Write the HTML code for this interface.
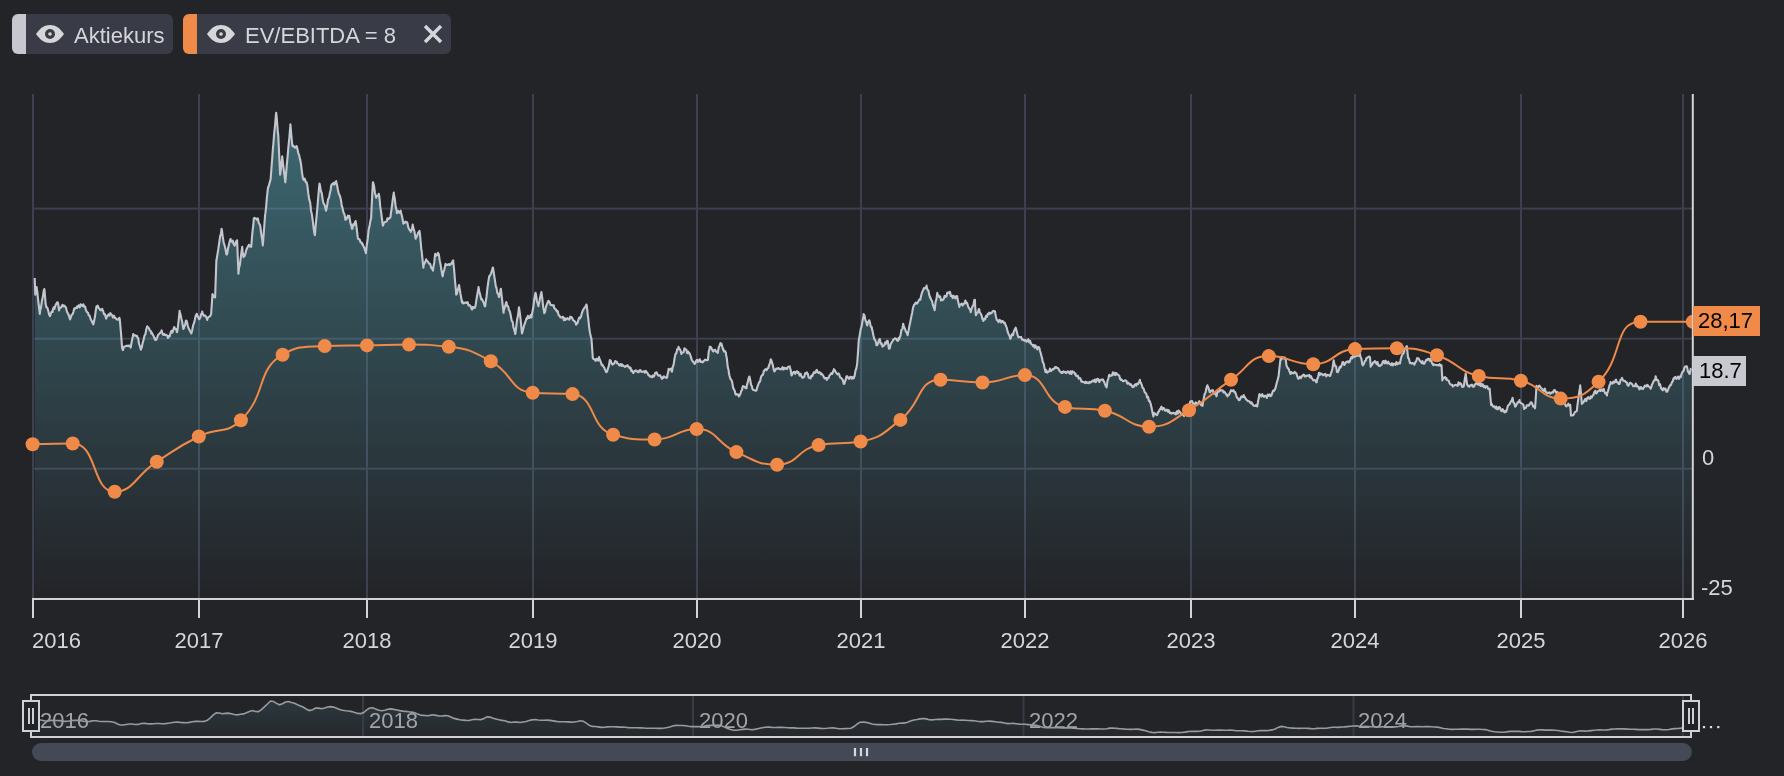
<!DOCTYPE html>
<html><head><meta charset="utf-8"><style>
html,body{margin:0;padding:0;width:1784px;height:776px;overflow:hidden;background:#232428;font-family:"Liberation Sans",sans-serif;}
</style></head><body>
<div style="position:absolute;left:0;top:0;width:1784px;height:776px;will-change:transform">
<svg width="1784" height="776" viewBox="0 0 1784 776" style="position:absolute;left:0;top:0">
<defs><linearGradient id="g1" x1="0" y1="113" x2="0" y2="598" gradientUnits="userSpaceOnUse"><stop offset="0" stop-color="rgb(89,174,190)" stop-opacity="0.5"/><stop offset="1" stop-color="rgb(89,174,190)" stop-opacity="0"/></linearGradient><linearGradient id="g2" x1="0" y1="697" x2="0" y2="736" gradientUnits="userSpaceOnUse"><stop offset="0" stop-color="#2c3a40"/><stop offset="1" stop-color="#25282c"/></linearGradient></defs>
<rect x="12" y="14" width="161" height="40" rx="6" fill="#393b47"/>
<path d="M18 14 H26 V54 H18 A6 6 0 0 1 12 48 V20 A6 6 0 0 1 18 14 Z" fill="#c6c7cf"/>
<rect x="183" y="14" width="268" height="40" rx="6" fill="#393b47"/>
<path d="M189 14 H197 V54 H189 A6 6 0 0 1 183 48 V20 A6 6 0 0 1 189 14 Z" fill="#ef8a48"/>
<path d="M36.0 34.0 C40.0 28.2 44.5 25.0 50.0 25.0 C55.5 25.0 60.0 28.2 64.0 34.0 C60.0 39.8 55.5 43.0 50.0 43.0 C44.5 43.0 40.0 39.8 36.0 34.0 Z" fill="#d6d6da"/><circle cx="50.0" cy="34.0" r="5" fill="#393b47"/><circle cx="50.0" cy="34.0" r="1.8" fill="#d6d6da"/>
<path d="M207.0 34.0 C211.0 28.2 215.5 25.0 221.0 25.0 C226.5 25.0 231.0 28.2 235.0 34.0 C231.0 39.8 226.5 43.0 221.0 43.0 C215.5 43.0 211.0 39.8 207.0 34.0 Z" fill="#d6d6da"/><circle cx="221.0" cy="34.0" r="5" fill="#393b47"/><circle cx="221.0" cy="34.0" r="1.8" fill="#d6d6da"/>
<text x="74" y="43" font-family="Liberation Sans" font-size="22" fill="#d6d6da">Aktiekurs</text>
<text x="245" y="43" font-family="Liberation Sans" font-size="22" fill="#d6d6da">EV/EBITDA = 8</text>
<path d="M425 26 L441 42 M441 26 L425 42" stroke="#d6d6da" stroke-width="3.4"/>
<rect x="32.0" y="94" width="2" height="504" fill="#3d404e"/>
<rect x="198.0" y="94" width="2" height="504" fill="#3d404e"/>
<rect x="366.0" y="94" width="2" height="504" fill="#3d404e"/>
<rect x="532.0" y="94" width="2" height="504" fill="#3d404e"/>
<rect x="696.0" y="94" width="2" height="504" fill="#3d404e"/>
<rect x="860.0" y="94" width="2" height="504" fill="#3d404e"/>
<rect x="1024.0" y="94" width="2" height="504" fill="#3d404e"/>
<rect x="1190.0" y="94" width="2" height="504" fill="#3d404e"/>
<rect x="1354.0" y="94" width="2" height="504" fill="#3d404e"/>
<rect x="1520.0" y="94" width="2" height="504" fill="#3d404e"/>
<rect x="1682.0" y="94" width="2" height="504" fill="#3d404e"/>
<rect x="33" y="207.6" width="1659" height="2" fill="#3d404e"/>
<rect x="33" y="337.7" width="1659" height="2" fill="#3d404e"/>
<rect x="33" y="467.7" width="1659" height="2" fill="#3d404e"/>
<path d="M34.7 278.1 L34.7 278.7 L35.3 294.8 L35.6 291.8 L36.5 288.1 L36.6 287.0 L37.4 292.3 L38.3 301.5 L39.2 308.5 L39.8 314.0 L40.1 310.8 L41.0 307.4 L41.9 300.8 L42.8 297.1 L43.7 290.9 L44.3 289.0 L44.6 291.0 L45.5 302.4 L45.6 303.8 L46.4 307.3 L47.3 307.6 L48.2 310.6 L49.1 314.6 L49.5 315.4 L50.0 316.1 L50.9 313.4 L51.8 311.4 L52.7 311.9 L52.7 310.3 L53.6 307.4 L54.5 308.8 L55.4 305.5 L56.3 303.7 L57.2 302.3 L57.9 302.5 L58.1 303.1 L59.0 310.4 L59.1 310.0 L59.9 307.7 L60.8 307.7 L61.7 306.5 L62.4 305.0 L62.6 304.8 L63.5 306.3 L64.4 305.6 L65.3 306.6 L66.2 308.0 L66.2 309.0 L67.1 312.0 L68.0 313.5 L68.9 315.5 L69.8 318.8 L70.1 319.3 L70.7 317.6 L71.6 314.9 L72.5 314.3 L73.4 311.8 L74.0 309.6 L74.3 308.4 L75.2 308.7 L76.1 307.6 L77.0 307.9 L77.2 306.4 L77.9 307.0 L78.8 305.3 L79.7 307.4 L80.6 304.3 L81.5 305.1 L82.4 306.0 L83.0 305.0 L83.3 304.3 L84.2 306.8 L85.1 306.6 L86.0 310.2 L86.9 311.9 L87.8 312.6 L88.1 312.8 L88.7 315.4 L89.6 315.5 L90.5 318.8 L91.4 320.5 L92.3 322.4 L93.2 324.0 L93.3 324.4 L94.1 321.1 L95.0 316.3 L95.9 309.7 L96.5 306.4 L96.8 307.1 L97.7 305.6 L98.6 308.2 L99.5 308.6 L100.4 310.2 L101.3 310.1 L102.2 308.8 L102.3 309.6 L103.1 311.1 L104.0 314.1 L104.9 314.0 L105.8 317.5 L106.2 318.6 L106.7 316.9 L107.6 315.6 L108.5 314.4 L109.4 315.7 L110.0 314.1 L110.3 313.1 L111.2 314.1 L112.1 315.3 L113.0 317.6 L113.9 315.6 L114.8 317.5 L115.2 318.0 L115.7 318.2 L116.6 319.5 L117.5 319.4 L118.4 319.7 L119.3 317.8 L119.7 318.6 L120.2 324.1 L121.1 334.4 L122.0 346.7 L122.3 348.9 L122.9 350.1 L123.8 346.9 L124.7 346.5 L125.6 346.2 L126.5 345.7 L127.4 346.0 L128.1 345.7 L128.3 346.1 L129.2 345.7 L130.1 345.5 L130.7 347.6 L131.0 345.7 L131.9 340.7 L132.8 336.5 L133.2 334.1 L133.7 335.9 L134.6 335.4 L135.5 335.3 L136.4 336.1 L137.1 336.0 L137.3 337.3 L138.2 338.1 L139.1 344.0 L140.0 346.5 L140.9 349.8 L141.0 348.9 L141.8 347.2 L142.7 342.7 L143.6 339.7 L144.5 335.6 L145.4 334.3 L146.3 329.3 L147.2 326.2 L147.4 327.0 L148.1 327.2 L149.0 328.5 L149.9 330.6 L150.8 331.1 L151.3 333.5 L151.7 332.5 L152.6 334.4 L153.5 335.8 L154.4 338.1 L155.2 339.9 L155.3 338.2 L156.2 339.9 L157.1 337.8 L158.0 335.0 L158.9 334.2 L159.8 333.3 L160.7 332.2 L161.6 331.5 L161.6 330.2 L162.5 333.6 L163.4 335.0 L164.3 334.1 L165.2 335.1 L166.1 334.7 L167.0 335.6 L167.9 337.4 L168.0 338.0 L168.8 335.9 L169.7 336.4 L170.6 332.7 L171.5 330.8 L172.4 332.6 L173.3 329.7 L174.2 327.0 L174.5 327.7 L175.1 328.9 L176.0 328.7 L176.9 331.9 L177.1 332.2 L177.8 327.9 L178.7 319.8 L179.6 310.9 L179.6 311.6 L180.5 314.3 L181.4 318.8 L182.3 322.3 L183.2 328.5 L183.5 329.0 L184.1 327.2 L185.0 325.1 L185.9 320.7 L186.1 320.6 L186.8 321.3 L187.7 325.5 L188.6 328.2 L189.5 329.9 L190.4 331.9 L191.2 332.8 L191.3 333.5 L192.2 330.2 L193.1 325.3 L194.0 323.2 L194.9 319.5 L195.8 315.3 L196.4 314.8 L196.7 313.7 L197.6 316.1 L198.5 317.6 L199.0 319.3 L199.4 319.0 L200.3 317.7 L201.2 313.8 L202.1 313.2 L202.2 311.5 L203.0 314.5 L203.9 315.8 L204.8 315.3 L205.7 316.3 L206.6 317.8 L207.3 319.9 L207.5 318.5 L208.4 316.9 L209.3 316.7 L210.2 316.0 L211.1 314.1 L211.2 312.8 L212.0 301.2 L212.5 294.1 L212.9 295.1 L213.8 296.8 L214.7 295.5 L215.1 297.4 L215.6 283.4 L216.4 259.6 L216.5 260.4 L217.4 254.6 L218.3 249.2 L219.0 244.2 L219.2 242.9 L220.1 236.5 L221.0 233.3 L221.6 228.7 L221.9 229.9 L222.8 236.9 L223.7 242.8 L224.2 244.2 L224.6 245.4 L225.5 249.0 L226.4 254.4 L226.8 254.5 L227.3 253.2 L228.2 247.7 L229.1 243.9 L230.0 240.3 L230.6 239.0 L230.9 240.8 L231.8 241.6 L232.7 240.6 L233.6 244.1 L234.5 244.2 L234.5 245.8 L235.4 243.4 L236.3 241.0 L237.1 240.3 L237.2 243.0 L238.1 264.8 L238.4 273.8 L239.0 267.9 L239.9 264.7 L240.8 257.3 L241.7 250.4 L242.2 246.8 L242.6 251.4 L243.5 257.1 L243.5 256.9 L244.4 256.4 L245.3 254.2 L246.2 250.1 L247.1 248.2 L248.0 246.4 L248.7 245.5 L248.9 244.7 L249.8 246.4 L250.7 245.7 L251.2 246.8 L251.6 242.2 L252.5 231.3 L253.4 224.2 L253.8 218.4 L254.3 217.9 L255.2 218.3 L256.1 218.7 L257.0 219.8 L257.7 218.4 L257.9 218.7 L258.8 223.1 L259.7 224.3 L260.3 226.1 L260.6 228.5 L261.5 235.5 L262.4 240.8 L262.8 245.5 L263.3 239.1 L264.2 227.0 L265.1 215.2 L265.4 213.2 L266.0 208.3 L266.9 197.3 L267.8 189.4 L268.0 187.5 L268.7 186.2 L269.6 182.9 L270.5 179.4 L270.6 179.7 L271.4 169.0 L272.3 157.1 L273.1 146.2 L273.2 146.1 L274.1 134.1 L275.0 125.9 L275.9 115.1 L276.2 112.7 L276.8 118.6 L277.7 130.2 L278.3 135.9 L278.6 142.4 L279.5 161.9 L280.1 174.6 L280.4 172.9 L281.3 165.7 L282.2 156.5 L282.2 156.3 L283.1 164.4 L284.0 171.5 L284.9 179.0 L285.3 182.3 L285.8 177.3 L286.7 166.2 L287.6 156.3 L288.5 145.8 L289.4 137.2 L290.3 126.1 L290.4 124.3 L291.2 133.9 L292.1 143.5 L292.5 146.2 L293.0 145.4 L293.9 146.4 L294.8 147.7 L295.7 147.4 L296.3 146.2 L296.6 146.1 L297.5 149.3 L298.4 153.6 L299.3 155.7 L300.2 160.4 L300.2 159.5 L301.1 164.8 L302.0 172.6 L302.8 177.2 L302.9 178.3 L303.8 179.9 L304.7 178.6 L305.6 181.7 L306.5 182.7 L306.6 182.3 L307.4 185.8 L308.3 193.7 L309.2 199.4 L310.1 202.2 L310.5 205.5 L311.0 210.4 L311.9 214.6 L312.8 221.0 L313.7 228.8 L314.6 234.3 L314.9 235.2 L315.5 227.3 L316.4 218.1 L317.3 208.3 L318.2 197.6 L319.1 187.1 L319.5 183.6 L320.0 185.5 L320.9 191.3 L321.8 193.3 L322.7 199.6 L323.4 202.9 L323.6 203.3 L324.5 204.6 L325.4 208.3 L326.0 210.7 L326.3 209.7 L327.2 205.0 L328.1 199.1 L329.0 197.9 L329.9 192.9 L330.8 189.2 L331.1 186.2 L331.7 184.4 L332.6 184.3 L333.5 182.8 L334.4 184.7 L335.3 182.3 L336.2 181.1 L336.3 182.3 L337.1 185.3 L338.0 190.6 L338.9 193.9 L339.8 195.6 L340.7 198.9 L341.4 202.9 L341.6 205.2 L342.5 207.9 L343.4 212.2 L344.3 214.0 L345.2 217.8 L345.3 219.7 L346.1 219.5 L347.0 217.7 L347.9 215.6 L348.8 217.7 L349.2 215.8 L349.7 218.7 L350.6 223.8 L351.5 225.8 L351.8 228.7 L352.4 228.7 L353.3 224.2 L354.2 225.1 L355.1 221.9 L355.6 221.0 L356.0 223.2 L356.9 230.2 L357.8 237.7 L358.2 239.0 L358.7 238.9 L359.6 239.6 L360.5 242.2 L361.4 242.4 L362.1 244.2 L362.3 243.3 L363.2 245.7 L364.1 247.4 L365.0 250.1 L365.9 252.6 L365.9 253.2 L366.8 245.0 L367.7 238.9 L368.5 231.3 L368.6 230.1 L369.5 226.3 L370.4 220.8 L371.1 218.4 L371.3 213.9 L372.2 194.7 L372.9 182.3 L373.1 182.4 L374.0 185.8 L374.9 192.5 L375.8 196.1 L376.2 197.8 L376.7 196.0 L377.6 195.6 L378.5 195.8 L378.8 193.9 L379.4 197.3 L380.3 206.9 L381.2 212.7 L382.1 220.0 L382.7 224.8 L383.0 225.6 L383.9 222.9 L384.8 222.2 L385.7 221.7 L386.6 221.5 L387.5 218.2 L387.8 218.4 L388.4 219.2 L389.3 218.4 L390.2 217.7 L390.4 217.1 L391.1 212.0 L392.0 205.7 L392.9 198.5 L393.8 192.6 L393.8 193.9 L394.7 198.0 L395.6 205.9 L396.5 209.9 L396.9 213.2 L397.4 211.7 L398.3 210.9 L399.2 212.8 L400.1 212.4 L400.7 210.7 L401.0 212.8 L401.9 215.9 L402.8 220.2 L403.3 223.6 L403.7 222.7 L404.6 223.0 L405.5 221.6 L406.4 222.2 L406.9 222.2 L407.3 222.4 L408.2 227.0 L409.1 229.3 L410.0 230.1 L410.8 231.9 L410.9 230.7 L411.8 229.9 L412.7 224.5 L412.7 225.1 L413.6 228.8 L414.5 231.8 L415.4 237.4 L415.6 238.7 L416.3 237.2 L417.2 235.5 L418.1 232.7 L419.0 231.9 L419.5 230.9 L419.9 233.3 L420.8 243.4 L421.4 250.3 L421.7 251.5 L422.6 260.4 L423.4 267.7 L423.5 265.9 L424.4 263.4 L425.3 261.9 L426.2 259.3 L426.3 259.9 L427.1 261.0 L428.0 261.7 L428.9 263.4 L429.8 264.0 L430.1 263.8 L430.7 265.9 L431.6 268.6 L432.5 269.1 L433.0 270.6 L433.4 266.9 L434.3 262.2 L435.0 255.1 L435.2 253.9 L436.1 255.6 L437.0 255.1 L437.9 252.8 L438.8 255.2 L438.8 254.1 L439.7 260.6 L440.6 264.8 L441.5 270.3 L442.4 275.7 L442.7 276.4 L443.3 272.6 L444.2 270.0 L445.1 266.0 L445.6 263.8 L446.0 264.9 L446.9 264.8 L447.8 264.9 L448.7 264.1 L449.6 265.1 L450.4 263.8 L450.5 264.4 L451.4 263.8 L452.3 261.6 L453.2 260.4 L453.3 261.9 L454.1 269.7 L455.0 280.7 L455.9 290.0 L456.2 294.7 L456.8 293.9 L457.7 289.9 L458.6 287.2 L459.1 285.1 L459.5 287.9 L460.4 293.5 L461.3 298.3 L462.0 302.5 L462.2 300.8 L463.1 303.5 L464.0 303.3 L464.9 302.5 L465.8 302.6 L466.7 303.0 L466.9 302.5 L467.6 302.0 L468.5 305.5 L469.4 305.1 L470.3 305.8 L471.2 307.7 L471.7 309.2 L472.1 309.6 L473.0 306.9 L473.9 307.9 L474.8 307.8 L475.6 305.4 L475.7 304.7 L476.6 298.7 L477.5 293.3 L478.4 288.3 L478.5 287.0 L479.3 291.4 L480.2 294.8 L481.1 298.8 L481.4 299.6 L482.0 299.2 L482.9 301.0 L483.8 303.0 L484.7 306.2 L485.2 306.3 L485.6 302.7 L486.5 296.9 L487.4 288.3 L488.3 281.8 L489.1 277.3 L489.2 276.3 L490.1 275.4 L491.0 273.3 L491.9 271.0 L492.8 267.5 L493.0 267.7 L493.7 272.4 L494.6 278.2 L495.5 284.2 L495.9 287.0 L496.4 287.4 L497.3 293.0 L498.2 293.7 L498.8 296.7 L499.1 297.1 L500.0 293.3 L500.7 288.9 L500.9 288.8 L501.8 297.2 L502.7 305.4 L503.6 312.8 L503.6 311.2 L504.5 308.3 L505.4 305.0 L506.3 302.1 L506.5 302.5 L507.2 306.1 L508.1 306.3 L509.0 310.2 L509.9 311.4 L510.4 314.1 L510.8 315.8 L511.7 320.9 L512.6 321.7 L513.5 327.7 L514.4 330.2 L515.2 333.4 L515.3 334.0 L516.2 327.2 L517.1 319.4 L518.0 315.5 L518.9 307.9 L519.0 307.3 L519.8 312.6 L520.7 320.4 L521.6 329.9 L522.0 333.4 L522.5 331.6 L523.4 328.2 L524.3 324.8 L525.2 322.5 L526.1 319.5 L526.8 317.9 L527.0 319.0 L527.9 315.8 L528.8 318.0 L529.7 317.9 L530.6 315.1 L531.5 317.5 L531.6 316.0 L532.4 312.0 L533.3 307.3 L534.2 299.8 L535.1 294.7 L535.5 292.8 L536.0 294.8 L536.9 301.0 L537.8 303.8 L538.4 306.3 L538.7 304.4 L539.6 300.5 L540.5 295.8 L541.3 292.8 L541.4 292.0 L542.3 298.4 L543.2 307.2 L544.1 311.7 L544.2 313.1 L545.0 312.1 L545.9 307.1 L546.8 304.4 L547.7 302.5 L548.0 301.5 L548.6 300.8 L549.5 302.1 L550.4 304.7 L551.3 305.0 L552.2 305.4 L553.1 305.4 L553.8 305.4 L554.0 307.2 L554.9 308.9 L555.8 309.2 L556.7 311.4 L557.6 310.8 L558.5 314.8 L559.4 315.5 L559.6 316.0 L560.3 317.3 L561.2 317.6 L562.1 317.0 L563.0 316.8 L563.9 320.3 L564.8 318.2 L565.4 319.9 L565.7 319.7 L566.6 318.8 L567.5 318.2 L568.4 319.2 L569.3 319.6 L570.2 316.7 L571.1 317.6 L571.2 317.0 L572.0 317.6 L572.9 319.9 L573.8 320.7 L574.7 321.4 L575.6 322.8 L576.1 324.7 L576.5 322.9 L577.4 323.5 L578.3 320.3 L579.2 317.5 L580.1 318.1 L581.0 316.6 L581.9 312.9 L581.9 313.1 L582.8 310.4 L583.7 309.2 L584.6 307.4 L585.5 306.8 L586.4 304.5 L586.7 305.4 L587.3 310.1 L587.8 315.6 L588.2 318.2 L589.1 326.8 L589.3 328.3 L590.0 332.9 L590.9 336.8 L591.4 338.3 L591.8 343.7 L592.7 356.4 L592.8 358.1 L593.6 359.0 L594.5 359.4 L595.4 360.2 L595.6 361.0 L596.3 358.9 L597.2 359.0 L598.1 360.6 L599.0 357.0 L599.2 358.1 L599.9 359.7 L600.8 362.1 L601.7 364.9 L602.6 364.7 L602.7 365.9 L603.5 366.5 L604.4 368.1 L605.3 370.2 L606.2 371.9 L606.3 372.3 L607.1 371.4 L608.0 368.3 L608.9 365.7 L609.8 360.1 L609.8 361.7 L610.7 360.6 L611.6 363.5 L612.5 364.7 L613.3 363.8 L613.4 363.7 L614.3 363.5 L615.2 361.0 L616.1 361.8 L616.9 361.7 L617.0 363.2 L617.9 363.6 L618.8 364.5 L619.7 365.7 L620.6 364.0 L621.5 364.2 L621.9 365.9 L622.4 364.7 L623.3 365.8 L624.2 366.2 L625.1 367.0 L626.0 366.1 L626.9 365.8 L627.5 365.2 L627.8 366.5 L628.7 366.6 L629.6 368.1 L630.5 367.5 L631.4 371.2 L632.3 370.4 L632.5 371.6 L633.2 373.0 L634.1 372.1 L635.0 370.9 L635.9 370.3 L636.8 370.8 L637.7 372.1 L638.6 372.3 L639.5 370.3 L640.4 370.1 L641.3 371.7 L641.7 371.6 L642.2 372.0 L643.1 371.6 L644.0 371.2 L644.9 372.7 L645.8 370.9 L646.7 372.2 L647.4 373.0 L647.6 373.0 L648.5 375.5 L649.4 375.2 L650.3 376.8 L651.2 376.3 L652.1 376.2 L652.3 377.3 L653.0 375.4 L653.9 376.5 L654.8 374.3 L655.2 373.0 L655.7 372.7 L656.6 372.3 L657.5 374.5 L658.4 375.6 L659.3 375.4 L660.2 375.4 L661.1 377.4 L662.0 378.8 L662.9 377.0 L663.0 378.0 L663.8 376.3 L664.7 377.2 L665.6 377.3 L666.5 378.0 L667.2 377.3 L667.4 375.0 L668.3 371.6 L668.6 368.7 L669.2 369.8 L670.1 369.3 L671.0 368.7 L671.9 371.7 L672.2 370.2 L672.8 366.8 L673.7 364.3 L674.6 358.1 L675.5 353.9 L675.7 353.9 L676.4 353.0 L677.3 349.1 L678.2 349.1 L678.5 346.8 L679.1 348.3 L680.0 349.4 L680.9 351.7 L681.4 353.9 L681.8 353.0 L682.7 352.6 L683.6 352.3 L684.5 348.3 L684.9 348.9 L685.4 349.1 L686.3 349.6 L687.2 353.3 L688.1 351.5 L688.5 353.2 L689.0 352.5 L689.9 354.0 L690.8 356.6 L691.7 359.8 L692.6 361.2 L693.5 362.2 L694.1 362.4 L694.4 363.9 L695.3 363.3 L696.2 360.7 L697.1 359.8 L698.0 361.9 L698.4 360.2 L698.9 361.3 L699.8 359.3 L700.7 362.0 L701.6 361.5 L702.5 361.9 L702.6 362.4 L703.4 361.5 L704.3 360.5 L705.2 359.6 L706.1 360.1 L707.0 360.0 L707.6 360.2 L707.9 359.8 L708.8 351.3 L709.7 348.4 L709.7 346.8 L710.6 346.7 L711.5 348.1 L712.4 350.5 L713.3 351.4 L713.3 350.3 L714.2 350.5 L715.1 349.7 L716.0 351.6 L716.9 351.7 L717.5 352.4 L717.8 352.9 L718.7 347.5 L719.6 345.3 L720.4 343.2 L720.5 344.8 L721.4 343.6 L722.3 346.8 L723.2 350.0 L723.2 348.9 L724.1 351.6 L725.0 351.0 L725.9 352.8 L726.0 354.6 L726.8 358.2 L727.7 366.8 L728.6 370.3 L728.9 373.0 L729.5 375.7 L730.4 378.9 L731.3 379.7 L732.2 382.2 L732.4 383.6 L733.1 387.5 L734.0 389.5 L734.9 391.3 L735.3 393.5 L735.8 394.7 L736.7 394.0 L737.6 394.6 L738.5 394.5 L738.8 396.4 L739.4 395.8 L740.3 394.2 L741.2 391.0 L742.1 389.9 L742.3 387.9 L743.0 386.1 L743.9 386.5 L744.8 387.0 L745.7 388.3 L746.6 388.0 L746.6 386.5 L747.5 382.9 L748.4 379.2 L749.3 376.6 L749.4 376.5 L750.2 379.8 L751.1 385.0 L752.0 386.3 L752.3 388.6 L752.9 389.8 L753.8 389.9 L754.7 390.5 L755.6 390.6 L756.5 390.4 L756.5 390.0 L757.4 386.9 L758.3 384.4 L759.2 382.0 L759.3 382.2 L760.1 381.3 L761.0 376.9 L761.9 375.2 L762.8 375.0 L763.6 372.3 L763.7 371.4 L764.6 370.0 L765.5 369.2 L766.4 370.2 L767.1 369.5 L767.3 368.4 L768.2 368.1 L769.1 365.2 L770.0 363.1 L770.7 359.5 L770.9 359.4 L771.8 361.7 L772.7 364.6 L773.6 368.9 L774.2 370.9 L774.5 371.4 L775.4 369.9 L776.3 368.6 L777.2 368.6 L778.1 368.7 L778.5 368.0 L779.0 368.6 L779.9 369.0 L780.8 369.4 L781.7 368.8 L782.6 367.1 L783.5 369.6 L784.4 367.8 L785.3 368.8 L785.7 368.6 L786.2 368.0 L787.1 368.9 L788.0 366.8 L788.9 366.7 L789.8 366.4 L789.9 367.2 L790.7 370.1 L791.3 374.3 L791.6 375.4 L792.5 373.7 L793.4 372.1 L794.2 372.1 L794.3 371.7 L795.2 373.8 L796.1 372.1 L797.0 371.2 L797.9 373.1 L798.4 372.1 L798.8 373.2 L799.7 375.6 L800.6 373.8 L801.5 376.3 L802.0 377.1 L802.4 377.9 L803.3 377.3 L804.2 376.9 L805.1 373.3 L806.0 373.5 L806.9 372.3 L806.9 373.6 L807.8 373.8 L808.7 377.8 L809.6 377.8 L809.8 377.8 L810.5 378.5 L811.4 375.6 L812.3 376.2 L813.2 373.8 L814.1 372.1 L815.0 372.9 L815.9 372.4 L816.1 370.7 L816.8 369.9 L817.7 372.2 L818.6 372.9 L819.5 372.2 L820.4 373.3 L821.1 374.3 L821.3 373.3 L822.2 374.4 L823.1 375.4 L824.0 377.5 L824.9 378.5 L825.8 377.9 L826.7 378.1 L826.8 379.9 L827.6 378.3 L828.5 378.3 L829.4 375.5 L830.3 374.7 L831.2 373.2 L832.1 374.0 L833.0 372.0 L833.9 369.2 L833.9 370.7 L834.8 370.1 L835.7 372.0 L836.6 373.3 L837.5 374.4 L838.4 373.3 L839.3 374.4 L839.5 375.7 L840.2 377.5 L841.1 377.9 L842.0 378.9 L842.9 380.3 L843.8 383.9 L844.5 383.5 L844.7 382.2 L845.6 380.0 L846.5 376.3 L846.6 376.4 L847.4 376.4 L848.3 378.1 L849.2 378.9 L850.1 377.0 L851.0 376.7 L851.9 378.7 L852.8 377.2 L853.7 376.8 L853.7 378.5 L854.6 376.0 L855.5 370.6 L856.4 368.1 L857.2 363.6 L857.3 361.8 L858.2 349.8 L858.7 341.0 L859.1 338.8 L860.0 333.3 L860.9 328.2 L861.5 326.8 L861.8 325.1 L862.7 320.0 L863.6 315.4 L863.6 314.0 L864.5 315.5 L865.4 320.1 L866.3 322.1 L867.2 325.4 L867.2 325.4 L868.1 322.1 L869.0 320.4 L869.3 320.4 L869.9 322.4 L870.8 326.8 L871.7 327.0 L872.1 329.6 L872.6 331.4 L873.5 335.7 L874.4 339.5 L875.3 340.2 L876.2 343.2 L876.4 345.2 L877.1 345.3 L878.0 343.6 L878.9 340.1 L879.2 339.5 L879.8 339.0 L880.7 343.6 L881.6 343.4 L882.5 346.7 L882.8 345.9 L883.4 345.7 L884.3 345.5 L885.2 342.3 L886.1 343.6 L887.0 340.8 L887.7 341.0 L887.9 341.8 L888.8 348.2 L889.1 348.7 L889.7 348.5 L890.6 344.4 L891.5 342.6 L892.4 341.3 L893.3 339.8 L893.4 339.5 L894.2 339.1 L895.1 338.2 L896.0 338.6 L896.9 340.3 L897.8 340.9 L898.7 337.9 L899.1 339.5 L899.6 337.9 L900.5 335.4 L901.4 329.8 L902.3 329.3 L903.2 323.7 L903.3 324.6 L904.1 326.9 L905.0 329.0 L905.9 331.5 L906.8 332.7 L907.6 335.3 L907.7 334.5 L908.6 330.5 L909.5 325.4 L910.4 321.6 L910.4 321.1 L911.3 316.8 L912.2 312.7 L913.1 307.3 L914.0 305.2 L914.0 304.8 L914.9 304.1 L915.8 302.5 L916.7 303.6 L917.6 302.9 L918.5 301.1 L919.4 299.4 L920.3 299.7 L920.3 299.8 L921.2 295.4 L922.1 292.4 L923.0 290.3 L923.2 289.9 L923.9 288.0 L924.8 288.4 L925.7 287.9 L926.6 285.6 L926.7 287.1 L927.5 289.8 L928.4 290.5 L929.3 295.2 L930.2 297.9 L930.2 297.0 L931.1 299.7 L932.0 300.8 L932.9 305.1 L933.8 307.3 L934.5 309.8 L934.7 310.1 L935.6 301.9 L936.5 298.9 L937.3 292.8 L937.4 294.6 L938.3 295.2 L939.2 297.0 L940.1 296.3 L941.0 300.5 L941.6 299.8 L941.9 299.5 L942.8 300.2 L943.7 299.1 L944.6 295.7 L945.5 296.9 L946.4 296.5 L947.3 292.6 L948.2 292.7 L949.1 293.2 L949.4 292.0 L950.0 291.9 L950.9 296.0 L951.8 295.5 L952.2 297.0 L952.7 298.1 L953.6 295.8 L954.5 297.0 L955.4 298.4 L956.3 296.0 L957.2 296.2 L957.2 297.0 L958.1 301.3 L959.0 304.9 L959.3 306.9 L959.9 304.8 L960.8 304.5 L961.7 303.6 L962.6 305.5 L963.5 303.8 L964.4 303.8 L965.3 300.5 L965.7 301.3 L966.2 303.3 L967.1 302.8 L968.0 306.1 L968.9 308.2 L969.8 309.1 L970.6 311.2 L970.7 312.2 L971.6 308.7 L972.5 306.4 L973.4 305.1 L974.3 300.0 L974.9 299.8 L975.2 306.6 L975.8 315.1 L976.1 315.0 L977.0 312.7 L977.9 312.5 L978.8 309.1 L979.2 309.2 L979.7 312.3 L980.6 313.4 L981.5 315.2 L982.4 319.1 L983.3 320.5 L983.4 321.0 L984.2 318.7 L985.1 319.4 L986.0 315.7 L986.9 317.0 L987.8 313.8 L988.7 313.8 L989.2 312.6 L989.6 314.2 L990.5 312.9 L991.4 313.2 L992.3 312.0 L993.2 310.9 L994.1 311.0 L995.0 311.4 L995.1 312.6 L995.9 316.5 L996.8 319.9 L996.8 320.1 L997.7 320.5 L998.6 322.2 L999.5 319.9 L1000.4 320.6 L1001.0 321.8 L1001.3 322.5 L1002.2 320.9 L1003.1 321.4 L1004.0 323.1 L1004.9 322.8 L1005.2 324.3 L1005.8 325.5 L1006.7 327.7 L1007.6 331.4 L1008.5 334.0 L1009.4 335.3 L1010.2 338.6 L1010.3 338.8 L1011.2 336.8 L1012.1 334.0 L1013.0 335.2 L1013.9 331.3 L1014.8 329.4 L1015.7 327.6 L1016.0 328.5 L1016.6 330.9 L1017.5 334.6 L1018.4 337.2 L1018.6 336.9 L1019.3 337.0 L1020.2 337.2 L1021.1 336.9 L1022.0 339.6 L1022.9 339.9 L1023.6 340.2 L1023.8 339.7 L1024.7 340.7 L1025.6 340.0 L1026.5 341.7 L1027.4 341.0 L1028.3 339.3 L1028.6 340.2 L1029.2 342.4 L1030.1 340.8 L1031.0 343.7 L1031.9 344.5 L1032.8 345.2 L1032.8 346.1 L1033.7 344.9 L1034.6 347.7 L1035.5 345.4 L1036.4 347.6 L1037.3 349.3 L1038.2 346.9 L1039.1 347.4 L1039.5 348.6 L1040.0 350.8 L1040.9 353.8 L1041.8 357.5 L1042.0 357.8 L1042.7 361.8 L1043.6 363.4 L1044.5 367.7 L1045.4 371.4 L1045.4 372.1 L1046.3 370.2 L1047.2 372.7 L1048.1 372.0 L1049.0 371.4 L1049.6 370.4 L1049.9 368.6 L1050.8 371.1 L1051.7 370.3 L1052.6 369.0 L1053.5 369.5 L1054.4 368.2 L1055.3 367.0 L1055.4 367.9 L1056.2 367.1 L1057.1 368.1 L1058.0 368.0 L1058.9 369.5 L1059.8 371.5 L1060.7 371.9 L1061.6 373.0 L1062.1 372.1 L1062.5 372.8 L1063.4 371.3 L1064.3 372.3 L1065.2 371.9 L1066.1 373.1 L1067.0 372.2 L1067.9 371.3 L1068.8 372.6 L1069.7 373.7 L1069.7 372.1 L1070.6 371.4 L1071.5 373.9 L1072.4 371.2 L1073.3 372.3 L1074.2 372.4 L1075.1 374.4 L1075.5 373.7 L1076.0 375.8 L1076.9 376.1 L1077.8 375.7 L1078.7 378.6 L1079.6 377.8 L1080.5 378.5 L1081.4 381.8 L1082.2 381.3 L1082.3 381.8 L1083.2 382.1 L1084.1 382.1 L1085.0 383.2 L1085.9 381.6 L1086.8 382.9 L1087.7 382.6 L1088.6 383.2 L1089.5 381.9 L1089.8 382.1 L1090.4 382.7 L1091.3 382.0 L1092.2 380.9 L1093.1 380.4 L1094.0 381.6 L1094.9 379.5 L1095.8 382.1 L1096.7 379.3 L1097.3 380.4 L1097.6 378.8 L1098.5 379.2 L1099.4 382.1 L1100.3 380.3 L1101.2 379.7 L1102.1 379.4 L1103.0 379.6 L1103.9 381.9 L1104.0 381.3 L1104.8 383.6 L1105.7 385.9 L1106.5 387.1 L1106.6 387.4 L1107.5 380.9 L1108.4 378.5 L1109.0 375.4 L1109.3 374.8 L1110.2 376.0 L1111.1 375.6 L1112.0 375.5 L1112.9 372.3 L1113.8 374.6 L1114.7 374.4 L1114.9 372.9 L1115.6 375.1 L1116.5 373.2 L1117.4 374.4 L1118.3 375.0 L1119.2 375.6 L1120.1 379.3 L1120.8 378.8 L1121.0 380.0 L1121.9 379.9 L1122.8 381.2 L1123.7 381.1 L1124.6 380.5 L1125.5 380.4 L1126.4 380.9 L1127.3 383.7 L1127.5 383.0 L1128.2 382.6 L1129.1 383.7 L1130.0 384.8 L1130.9 384.2 L1131.8 385.7 L1132.5 387.1 L1132.7 386.2 L1133.6 387.0 L1134.5 385.1 L1135.4 384.2 L1136.3 385.7 L1137.2 383.5 L1138.1 384.0 L1139.0 382.5 L1139.9 379.8 L1140.0 381.3 L1140.8 382.8 L1141.7 384.8 L1142.6 387.9 L1143.5 388.4 L1144.2 390.5 L1144.4 391.6 L1145.3 392.8 L1146.2 393.5 L1147.1 397.5 L1148.0 396.7 L1148.9 401.0 L1149.2 400.5 L1149.8 401.4 L1150.7 403.9 L1151.6 407.7 L1152.5 412.6 L1153.4 416.4 L1153.4 414.8 L1154.3 412.9 L1155.2 414.4 L1156.1 414.3 L1157.0 415.1 L1157.6 414.0 L1157.9 412.3 L1158.8 411.6 L1159.7 409.3 L1160.6 409.1 L1161.0 407.2 L1161.5 406.7 L1162.4 409.7 L1163.3 408.0 L1164.2 408.4 L1165.1 410.7 L1166.0 410.6 L1166.0 410.6 L1166.9 409.6 L1167.8 411.7 L1168.7 410.2 L1169.6 412.9 L1170.0 412.1 L1170.5 412.9 L1171.4 413.6 L1172.3 413.3 L1173.2 412.7 L1174.1 413.2 L1174.3 413.6 L1175.0 413.0 L1175.9 414.4 L1176.8 411.3 L1177.7 413.7 L1178.5 412.1 L1178.6 410.5 L1179.5 411.6 L1180.4 412.3 L1181.3 414.9 L1182.2 414.0 L1183.1 414.0 L1184.0 416.2 L1184.2 415.0 L1184.9 412.6 L1185.8 411.5 L1186.7 409.8 L1187.6 408.7 L1188.5 406.8 L1189.4 404.5 L1190.3 401.6 L1190.6 401.5 L1191.2 401.2 L1192.1 401.0 L1193.0 403.7 L1193.9 403.5 L1194.8 404.1 L1195.5 403.6 L1195.7 402.4 L1196.6 403.0 L1197.5 403.9 L1198.4 402.9 L1199.3 401.1 L1199.8 402.2 L1200.2 402.6 L1201.1 405.2 L1202.0 404.1 L1202.6 405.8 L1202.9 403.0 L1203.8 398.2 L1204.7 393.7 L1204.7 394.4 L1205.6 392.4 L1206.5 387.7 L1207.4 385.3 L1207.6 385.9 L1208.3 387.2 L1209.2 390.2 L1209.7 392.3 L1210.1 392.2 L1211.0 390.5 L1211.9 390.6 L1212.5 390.9 L1212.8 390.1 L1213.7 393.7 L1214.6 393.7 L1215.5 392.5 L1216.4 396.3 L1216.8 395.1 L1217.3 392.6 L1218.2 391.5 L1219.1 391.5 L1219.6 388.7 L1220.0 390.0 L1220.9 390.6 L1221.8 390.3 L1222.7 390.3 L1223.6 392.5 L1223.9 392.3 L1224.5 391.7 L1225.4 393.1 L1226.3 394.8 L1227.2 394.7 L1227.4 396.5 L1228.1 394.9 L1229.0 394.7 L1229.9 392.8 L1230.8 390.6 L1231.0 390.2 L1231.7 391.0 L1232.6 390.9 L1233.5 390.2 L1234.4 392.3 L1235.2 392.3 L1235.3 392.2 L1236.2 395.3 L1237.1 397.9 L1238.0 398.3 L1238.7 400.1 L1238.9 400.2 L1239.8 399.8 L1240.7 397.8 L1241.6 396.3 L1242.5 397.1 L1243.4 396.7 L1243.7 395.1 L1244.3 396.8 L1245.2 397.8 L1246.1 399.5 L1247.0 400.1 L1247.9 401.1 L1248.0 400.8 L1248.8 401.3 L1249.7 401.5 L1250.6 403.3 L1251.5 403.6 L1251.5 402.2 L1252.4 403.8 L1253.3 405.5 L1254.2 405.7 L1255.1 405.9 L1256.0 405.0 L1256.9 406.1 L1257.2 406.5 L1257.8 402.9 L1258.7 398.3 L1259.3 394.4 L1259.6 394.2 L1260.5 395.4 L1261.4 396.5 L1262.3 394.2 L1263.2 396.1 L1264.1 396.8 L1265.0 395.7 L1265.9 396.3 L1266.4 396.5 L1266.8 398.0 L1267.7 394.5 L1268.6 395.9 L1269.5 394.3 L1270.4 396.1 L1270.6 395.1 L1271.3 395.7 L1272.2 393.1 L1273.1 390.5 L1274.0 390.9 L1274.9 389.5 L1274.9 389.6 L1275.8 386.9 L1276.7 383.0 L1277.6 380.1 L1278.4 376.7 L1278.5 377.0 L1279.4 368.4 L1280.3 360.5 L1280.6 358.3 L1281.2 359.7 L1282.1 357.1 L1283.0 358.5 L1283.9 357.4 L1284.8 357.6 L1284.8 358.5 L1285.7 359.7 L1286.6 366.1 L1287.5 367.3 L1287.6 368.2 L1288.4 368.3 L1289.3 370.8 L1290.2 373.0 L1290.5 373.9 L1291.1 372.0 L1292.0 373.1 L1292.9 372.8 L1293.8 373.4 L1294.7 372.4 L1294.7 371.9 L1295.6 372.8 L1296.5 373.8 L1297.4 376.8 L1298.3 378.7 L1299.0 378.1 L1299.2 378.1 L1300.1 376.6 L1301.0 378.1 L1301.9 376.3 L1302.8 375.3 L1303.7 374.5 L1304.6 376.3 L1304.7 375.3 L1305.5 376.5 L1306.4 376.0 L1307.3 375.5 L1308.2 375.9 L1309.1 374.9 L1310.0 377.5 L1310.3 376.0 L1310.9 376.1 L1311.8 378.0 L1312.7 379.5 L1313.6 380.4 L1314.5 380.1 L1315.4 380.4 L1316.3 382.2 L1316.7 382.4 L1317.2 378.9 L1318.1 377.4 L1318.8 373.2 L1319.0 372.8 L1319.9 374.9 L1320.8 373.4 L1321.7 374.2 L1322.6 374.2 L1323.1 375.3 L1323.5 375.1 L1324.4 374.4 L1325.3 373.8 L1326.2 376.4 L1327.1 375.0 L1328.0 374.9 L1328.9 375.2 L1329.8 375.9 L1330.2 376.0 L1330.7 374.1 L1331.6 371.7 L1332.3 368.9 L1332.5 368.2 L1333.4 361.8 L1333.7 360.4 L1334.3 363.7 L1335.2 366.3 L1336.1 366.4 L1337.0 371.9 L1337.3 371.7 L1337.9 372.1 L1338.8 370.3 L1339.7 366.7 L1340.6 367.6 L1341.5 365.5 L1342.2 363.9 L1342.4 362.2 L1343.3 362.0 L1344.2 365.0 L1345.1 363.8 L1346.0 362.2 L1346.9 361.5 L1347.8 361.5 L1348.6 362.5 L1348.7 361.4 L1349.6 362.0 L1350.5 359.2 L1351.4 357.2 L1352.3 358.4 L1352.9 356.1 L1353.2 357.0 L1354.1 354.6 L1355.0 356.8 L1355.9 355.6 L1356.8 355.9 L1357.7 355.3 L1358.6 355.8 L1359.5 355.1 L1360.0 354.0 L1360.4 356.8 L1361.3 358.3 L1362.2 363.6 L1362.8 365.4 L1363.1 364.9 L1364.0 363.8 L1364.9 360.9 L1365.8 360.6 L1366.3 358.3 L1366.7 358.4 L1367.6 357.3 L1368.5 357.0 L1369.4 356.5 L1370.0 357.6 L1370.3 361.5 L1370.7 366.8 L1371.2 364.6 L1372.1 364.8 L1373.0 362.5 L1373.9 362.4 L1374.8 361.2 L1374.9 361.1 L1375.7 362.0 L1376.6 364.0 L1377.5 362.0 L1378.4 365.8 L1379.3 365.4 L1379.9 366.1 L1380.2 365.9 L1381.1 364.9 L1382.0 364.3 L1382.9 361.4 L1383.4 361.1 L1383.8 361.0 L1384.7 363.3 L1385.6 360.7 L1386.5 363.1 L1387.4 363.5 L1387.7 363.2 L1388.3 361.7 L1389.2 363.8 L1390.1 364.1 L1391.0 365.1 L1391.9 363.1 L1392.8 365.5 L1393.3 363.9 L1393.7 363.9 L1394.6 363.7 L1395.5 365.0 L1396.4 362.0 L1397.3 364.2 L1398.2 363.8 L1399.1 362.7 L1399.7 363.2 L1400.0 363.4 L1400.9 358.5 L1401.8 355.7 L1401.9 355.4 L1402.7 354.0 L1403.6 353.1 L1404.5 349.5 L1405.4 348.6 L1406.3 346.9 L1406.8 346.2 L1407.2 349.6 L1408.1 357.9 L1408.2 357.6 L1409.0 358.9 L1409.9 363.0 L1410.4 363.2 L1410.8 363.0 L1411.7 363.5 L1412.6 362.9 L1413.5 363.8 L1413.9 363.9 L1414.4 364.7 L1415.3 362.2 L1416.2 361.2 L1417.1 358.2 L1417.4 358.3 L1418.0 358.2 L1418.9 358.9 L1419.8 360.7 L1420.7 361.6 L1421.6 362.9 L1422.5 361.1 L1423.1 363.2 L1423.4 363.8 L1424.3 363.8 L1425.2 362.1 L1426.1 359.9 L1427.0 360.2 L1427.9 358.7 L1428.8 358.8 L1429.7 360.7 L1430.2 359.0 L1430.6 360.1 L1431.5 361.8 L1432.4 363.8 L1433.0 363.9 L1433.3 365.3 L1434.2 364.5 L1435.1 364.7 L1436.0 364.9 L1436.9 365.3 L1437.8 365.1 L1438.7 365.5 L1439.6 364.1 L1440.5 365.8 L1441.4 365.2 L1441.5 365.4 L1442.3 379.5 L1442.3 380.4 L1443.2 377.8 L1444.1 377.8 L1445.0 377.0 L1445.9 379.2 L1446.5 378.1 L1446.8 379.9 L1447.7 380.2 L1448.6 380.4 L1449.5 383.2 L1450.4 384.3 L1451.3 384.7 L1452.2 384.8 L1452.9 386.6 L1453.1 385.8 L1454.0 385.8 L1454.9 385.0 L1455.8 384.9 L1456.7 385.2 L1457.6 385.8 L1458.5 382.3 L1458.6 383.8 L1459.4 384.5 L1460.3 383.2 L1461.2 384.0 L1462.1 386.9 L1463.0 386.6 L1463.5 386.6 L1463.9 385.7 L1464.8 379.0 L1465.6 374.6 L1465.7 373.6 L1466.6 380.8 L1467.1 384.5 L1467.5 384.9 L1468.4 386.4 L1469.3 386.8 L1470.2 385.3 L1471.1 385.4 L1472.0 384.6 L1472.9 386.7 L1473.8 385.5 L1474.1 386.6 L1474.7 384.9 L1475.6 383.7 L1476.5 383.0 L1477.4 384.5 L1478.3 381.9 L1478.4 383.1 L1479.2 385.2 L1480.1 382.8 L1481.0 386.1 L1481.9 384.2 L1482.6 385.9 L1482.8 384.3 L1483.7 387.1 L1484.6 385.8 L1485.5 387.8 L1486.4 386.3 L1487.3 386.2 L1488.2 389.0 L1489.1 389.2 L1489.7 388.7 L1490.0 393.2 L1490.9 402.5 L1491.2 405.0 L1491.8 403.9 L1492.7 406.1 L1493.6 406.8 L1494.5 406.4 L1495.4 408.4 L1496.3 406.5 L1497.2 409.3 L1497.5 407.9 L1498.1 409.0 L1499.0 407.0 L1499.9 407.5 L1500.8 410.2 L1501.7 411.2 L1502.6 409.2 L1503.5 410.5 L1504.4 412.4 L1505.3 412.1 L1505.3 411.0 L1506.2 411.6 L1507.1 408.7 L1508.0 405.5 L1508.9 404.9 L1509.8 403.9 L1510.7 401.7 L1511.6 400.8 L1512.4 398.7 L1512.5 397.8 L1513.4 402.4 L1514.3 403.3 L1515.2 406.7 L1515.3 406.5 L1516.1 405.7 L1517.0 403.6 L1517.9 402.1 L1518.8 402.1 L1519.5 400.1 L1519.7 401.9 L1520.6 402.8 L1521.5 403.4 L1522.4 403.9 L1523.3 404.5 L1524.2 409.0 L1524.5 407.9 L1525.1 408.0 L1526.0 407.7 L1526.9 405.2 L1527.8 405.3 L1528.7 405.7 L1529.6 404.4 L1530.5 402.8 L1530.8 402.2 L1531.4 402.3 L1532.3 403.9 L1533.2 406.7 L1534.1 406.2 L1535.0 408.4 L1535.1 407.9 L1535.9 395.7 L1536.5 385.9 L1536.8 387.4 L1537.7 387.6 L1538.6 386.2 L1539.5 385.7 L1540.4 387.1 L1541.3 388.1 L1542.2 389.1 L1543.1 390.3 L1543.6 389.5 L1544.0 391.1 L1544.9 388.7 L1545.8 392.0 L1546.7 392.5 L1547.6 393.2 L1548.5 392.8 L1549.3 393.0 L1549.4 392.2 L1550.3 393.7 L1551.2 393.1 L1552.1 392.2 L1553.0 392.6 L1553.5 390.9 L1553.9 390.5 L1554.8 390.0 L1555.7 391.9 L1556.6 393.0 L1556.8 392.1 L1557.5 392.1 L1558.4 395.3 L1559.3 397.2 L1560.2 396.1 L1561.1 398.7 L1562.0 400.3 L1562.9 400.9 L1563.8 401.3 L1564.7 402.8 L1565.6 405.8 L1566.0 405.5 L1566.5 406.4 L1567.4 405.1 L1568.3 403.7 L1569.2 405.9 L1570.1 405.6 L1570.2 404.7 L1571.0 415.6 L1571.0 414.7 L1571.9 415.1 L1572.8 415.4 L1573.7 414.6 L1574.6 412.6 L1575.5 411.7 L1576.4 411.3 L1576.9 410.6 L1577.3 406.5 L1578.2 399.6 L1579.1 392.7 L1580.0 387.6 L1580.2 385.4 L1580.9 392.6 L1581.8 403.0 L1581.9 403.9 L1582.7 402.8 L1583.6 402.2 L1584.5 400.1 L1585.4 398.8 L1586.3 401.1 L1586.9 398.8 L1587.2 398.3 L1588.1 397.1 L1589.0 398.6 L1589.9 398.8 L1590.8 396.4 L1591.7 397.6 L1591.9 397.2 L1592.6 395.6 L1593.5 394.9 L1594.4 391.8 L1595.3 392.1 L1595.3 390.5 L1596.2 393.4 L1597.1 392.6 L1598.0 391.0 L1598.9 390.9 L1599.8 389.5 L1600.7 390.9 L1601.6 389.4 L1602.5 390.8 L1603.4 389.8 L1603.7 388.8 L1604.3 391.1 L1605.2 393.4 L1606.1 392.8 L1607.0 395.5 L1607.0 393.9 L1607.9 391.4 L1608.8 388.2 L1609.7 384.8 L1610.4 383.8 L1610.6 382.1 L1611.5 383.2 L1612.4 383.7 L1613.3 381.7 L1614.2 382.7 L1615.1 382.0 L1615.4 380.4 L1616.0 379.5 L1616.9 382.3 L1617.8 382.5 L1618.7 383.8 L1618.7 382.5 L1619.6 383.8 L1620.5 379.9 L1621.4 379.3 L1622.1 377.9 L1622.3 378.6 L1623.2 380.7 L1624.1 380.8 L1625.0 381.0 L1625.9 382.2 L1626.8 382.3 L1627.1 383.8 L1627.7 385.5 L1628.6 385.7 L1629.5 383.2 L1630.4 382.8 L1631.3 383.6 L1632.2 384.1 L1633.1 386.1 L1634.0 386.3 L1634.9 386.2 L1635.8 383.6 L1636.7 386.3 L1637.2 385.4 L1637.6 386.5 L1638.5 387.2 L1639.4 389.3 L1640.3 387.1 L1640.5 388.8 L1641.2 387.2 L1642.1 388.7 L1643.0 388.9 L1643.9 387.4 L1644.8 385.6 L1645.7 386.1 L1646.4 385.4 L1646.6 386.4 L1647.5 384.9 L1648.4 386.4 L1649.3 386.9 L1650.2 387.2 L1650.6 388.8 L1651.1 387.6 L1652.0 384.6 L1652.9 382.9 L1653.8 380.6 L1654.7 380.5 L1655.6 377.9 L1655.6 376.2 L1656.5 380.1 L1657.4 379.8 L1658.3 380.7 L1659.2 385.2 L1660.1 384.3 L1661.0 388.2 L1661.9 389.4 L1662.3 388.8 L1662.8 390.3 L1663.7 388.1 L1664.6 389.4 L1665.5 388.5 L1666.4 391.7 L1667.3 390.5 L1667.3 391.7 L1668.2 389.4 L1669.1 387.2 L1670.0 385.2 L1670.9 385.3 L1671.8 382.5 L1672.7 381.4 L1673.6 378.2 L1674.0 378.7 L1674.5 377.6 L1675.4 376.9 L1676.3 378.9 L1677.2 378.1 L1678.1 376.5 L1679.0 378.8 L1679.9 376.5 L1680.7 377.1 L1680.8 376.6 L1681.7 373.5 L1682.6 371.6 L1683.5 371.3 L1684.1 368.7 L1684.4 367.8 L1685.3 366.4 L1686.2 366.6 L1686.6 366.2 L1687.1 367.1 L1688.0 371.8 L1688.9 371.8 L1689.1 373.7 L1689.8 373.9 L1690.7 369.0 L1691.6 368.7 L1691.6 598 L34.7 598 Z" fill="url(#g1)"/>
<path d="M34.7 278.1 L34.7 278.7 L35.3 294.8 L35.6 291.8 L36.5 288.1 L36.6 287.0 L37.4 292.3 L38.3 301.5 L39.2 308.5 L39.8 314.0 L40.1 310.8 L41.0 307.4 L41.9 300.8 L42.8 297.1 L43.7 290.9 L44.3 289.0 L44.6 291.0 L45.5 302.4 L45.6 303.8 L46.4 307.3 L47.3 307.6 L48.2 310.6 L49.1 314.6 L49.5 315.4 L50.0 316.1 L50.9 313.4 L51.8 311.4 L52.7 311.9 L52.7 310.3 L53.6 307.4 L54.5 308.8 L55.4 305.5 L56.3 303.7 L57.2 302.3 L57.9 302.5 L58.1 303.1 L59.0 310.4 L59.1 310.0 L59.9 307.7 L60.8 307.7 L61.7 306.5 L62.4 305.0 L62.6 304.8 L63.5 306.3 L64.4 305.6 L65.3 306.6 L66.2 308.0 L66.2 309.0 L67.1 312.0 L68.0 313.5 L68.9 315.5 L69.8 318.8 L70.1 319.3 L70.7 317.6 L71.6 314.9 L72.5 314.3 L73.4 311.8 L74.0 309.6 L74.3 308.4 L75.2 308.7 L76.1 307.6 L77.0 307.9 L77.2 306.4 L77.9 307.0 L78.8 305.3 L79.7 307.4 L80.6 304.3 L81.5 305.1 L82.4 306.0 L83.0 305.0 L83.3 304.3 L84.2 306.8 L85.1 306.6 L86.0 310.2 L86.9 311.9 L87.8 312.6 L88.1 312.8 L88.7 315.4 L89.6 315.5 L90.5 318.8 L91.4 320.5 L92.3 322.4 L93.2 324.0 L93.3 324.4 L94.1 321.1 L95.0 316.3 L95.9 309.7 L96.5 306.4 L96.8 307.1 L97.7 305.6 L98.6 308.2 L99.5 308.6 L100.4 310.2 L101.3 310.1 L102.2 308.8 L102.3 309.6 L103.1 311.1 L104.0 314.1 L104.9 314.0 L105.8 317.5 L106.2 318.6 L106.7 316.9 L107.6 315.6 L108.5 314.4 L109.4 315.7 L110.0 314.1 L110.3 313.1 L111.2 314.1 L112.1 315.3 L113.0 317.6 L113.9 315.6 L114.8 317.5 L115.2 318.0 L115.7 318.2 L116.6 319.5 L117.5 319.4 L118.4 319.7 L119.3 317.8 L119.7 318.6 L120.2 324.1 L121.1 334.4 L122.0 346.7 L122.3 348.9 L122.9 350.1 L123.8 346.9 L124.7 346.5 L125.6 346.2 L126.5 345.7 L127.4 346.0 L128.1 345.7 L128.3 346.1 L129.2 345.7 L130.1 345.5 L130.7 347.6 L131.0 345.7 L131.9 340.7 L132.8 336.5 L133.2 334.1 L133.7 335.9 L134.6 335.4 L135.5 335.3 L136.4 336.1 L137.1 336.0 L137.3 337.3 L138.2 338.1 L139.1 344.0 L140.0 346.5 L140.9 349.8 L141.0 348.9 L141.8 347.2 L142.7 342.7 L143.6 339.7 L144.5 335.6 L145.4 334.3 L146.3 329.3 L147.2 326.2 L147.4 327.0 L148.1 327.2 L149.0 328.5 L149.9 330.6 L150.8 331.1 L151.3 333.5 L151.7 332.5 L152.6 334.4 L153.5 335.8 L154.4 338.1 L155.2 339.9 L155.3 338.2 L156.2 339.9 L157.1 337.8 L158.0 335.0 L158.9 334.2 L159.8 333.3 L160.7 332.2 L161.6 331.5 L161.6 330.2 L162.5 333.6 L163.4 335.0 L164.3 334.1 L165.2 335.1 L166.1 334.7 L167.0 335.6 L167.9 337.4 L168.0 338.0 L168.8 335.9 L169.7 336.4 L170.6 332.7 L171.5 330.8 L172.4 332.6 L173.3 329.7 L174.2 327.0 L174.5 327.7 L175.1 328.9 L176.0 328.7 L176.9 331.9 L177.1 332.2 L177.8 327.9 L178.7 319.8 L179.6 310.9 L179.6 311.6 L180.5 314.3 L181.4 318.8 L182.3 322.3 L183.2 328.5 L183.5 329.0 L184.1 327.2 L185.0 325.1 L185.9 320.7 L186.1 320.6 L186.8 321.3 L187.7 325.5 L188.6 328.2 L189.5 329.9 L190.4 331.9 L191.2 332.8 L191.3 333.5 L192.2 330.2 L193.1 325.3 L194.0 323.2 L194.9 319.5 L195.8 315.3 L196.4 314.8 L196.7 313.7 L197.6 316.1 L198.5 317.6 L199.0 319.3 L199.4 319.0 L200.3 317.7 L201.2 313.8 L202.1 313.2 L202.2 311.5 L203.0 314.5 L203.9 315.8 L204.8 315.3 L205.7 316.3 L206.6 317.8 L207.3 319.9 L207.5 318.5 L208.4 316.9 L209.3 316.7 L210.2 316.0 L211.1 314.1 L211.2 312.8 L212.0 301.2 L212.5 294.1 L212.9 295.1 L213.8 296.8 L214.7 295.5 L215.1 297.4 L215.6 283.4 L216.4 259.6 L216.5 260.4 L217.4 254.6 L218.3 249.2 L219.0 244.2 L219.2 242.9 L220.1 236.5 L221.0 233.3 L221.6 228.7 L221.9 229.9 L222.8 236.9 L223.7 242.8 L224.2 244.2 L224.6 245.4 L225.5 249.0 L226.4 254.4 L226.8 254.5 L227.3 253.2 L228.2 247.7 L229.1 243.9 L230.0 240.3 L230.6 239.0 L230.9 240.8 L231.8 241.6 L232.7 240.6 L233.6 244.1 L234.5 244.2 L234.5 245.8 L235.4 243.4 L236.3 241.0 L237.1 240.3 L237.2 243.0 L238.1 264.8 L238.4 273.8 L239.0 267.9 L239.9 264.7 L240.8 257.3 L241.7 250.4 L242.2 246.8 L242.6 251.4 L243.5 257.1 L243.5 256.9 L244.4 256.4 L245.3 254.2 L246.2 250.1 L247.1 248.2 L248.0 246.4 L248.7 245.5 L248.9 244.7 L249.8 246.4 L250.7 245.7 L251.2 246.8 L251.6 242.2 L252.5 231.3 L253.4 224.2 L253.8 218.4 L254.3 217.9 L255.2 218.3 L256.1 218.7 L257.0 219.8 L257.7 218.4 L257.9 218.7 L258.8 223.1 L259.7 224.3 L260.3 226.1 L260.6 228.5 L261.5 235.5 L262.4 240.8 L262.8 245.5 L263.3 239.1 L264.2 227.0 L265.1 215.2 L265.4 213.2 L266.0 208.3 L266.9 197.3 L267.8 189.4 L268.0 187.5 L268.7 186.2 L269.6 182.9 L270.5 179.4 L270.6 179.7 L271.4 169.0 L272.3 157.1 L273.1 146.2 L273.2 146.1 L274.1 134.1 L275.0 125.9 L275.9 115.1 L276.2 112.7 L276.8 118.6 L277.7 130.2 L278.3 135.9 L278.6 142.4 L279.5 161.9 L280.1 174.6 L280.4 172.9 L281.3 165.7 L282.2 156.5 L282.2 156.3 L283.1 164.4 L284.0 171.5 L284.9 179.0 L285.3 182.3 L285.8 177.3 L286.7 166.2 L287.6 156.3 L288.5 145.8 L289.4 137.2 L290.3 126.1 L290.4 124.3 L291.2 133.9 L292.1 143.5 L292.5 146.2 L293.0 145.4 L293.9 146.4 L294.8 147.7 L295.7 147.4 L296.3 146.2 L296.6 146.1 L297.5 149.3 L298.4 153.6 L299.3 155.7 L300.2 160.4 L300.2 159.5 L301.1 164.8 L302.0 172.6 L302.8 177.2 L302.9 178.3 L303.8 179.9 L304.7 178.6 L305.6 181.7 L306.5 182.7 L306.6 182.3 L307.4 185.8 L308.3 193.7 L309.2 199.4 L310.1 202.2 L310.5 205.5 L311.0 210.4 L311.9 214.6 L312.8 221.0 L313.7 228.8 L314.6 234.3 L314.9 235.2 L315.5 227.3 L316.4 218.1 L317.3 208.3 L318.2 197.6 L319.1 187.1 L319.5 183.6 L320.0 185.5 L320.9 191.3 L321.8 193.3 L322.7 199.6 L323.4 202.9 L323.6 203.3 L324.5 204.6 L325.4 208.3 L326.0 210.7 L326.3 209.7 L327.2 205.0 L328.1 199.1 L329.0 197.9 L329.9 192.9 L330.8 189.2 L331.1 186.2 L331.7 184.4 L332.6 184.3 L333.5 182.8 L334.4 184.7 L335.3 182.3 L336.2 181.1 L336.3 182.3 L337.1 185.3 L338.0 190.6 L338.9 193.9 L339.8 195.6 L340.7 198.9 L341.4 202.9 L341.6 205.2 L342.5 207.9 L343.4 212.2 L344.3 214.0 L345.2 217.8 L345.3 219.7 L346.1 219.5 L347.0 217.7 L347.9 215.6 L348.8 217.7 L349.2 215.8 L349.7 218.7 L350.6 223.8 L351.5 225.8 L351.8 228.7 L352.4 228.7 L353.3 224.2 L354.2 225.1 L355.1 221.9 L355.6 221.0 L356.0 223.2 L356.9 230.2 L357.8 237.7 L358.2 239.0 L358.7 238.9 L359.6 239.6 L360.5 242.2 L361.4 242.4 L362.1 244.2 L362.3 243.3 L363.2 245.7 L364.1 247.4 L365.0 250.1 L365.9 252.6 L365.9 253.2 L366.8 245.0 L367.7 238.9 L368.5 231.3 L368.6 230.1 L369.5 226.3 L370.4 220.8 L371.1 218.4 L371.3 213.9 L372.2 194.7 L372.9 182.3 L373.1 182.4 L374.0 185.8 L374.9 192.5 L375.8 196.1 L376.2 197.8 L376.7 196.0 L377.6 195.6 L378.5 195.8 L378.8 193.9 L379.4 197.3 L380.3 206.9 L381.2 212.7 L382.1 220.0 L382.7 224.8 L383.0 225.6 L383.9 222.9 L384.8 222.2 L385.7 221.7 L386.6 221.5 L387.5 218.2 L387.8 218.4 L388.4 219.2 L389.3 218.4 L390.2 217.7 L390.4 217.1 L391.1 212.0 L392.0 205.7 L392.9 198.5 L393.8 192.6 L393.8 193.9 L394.7 198.0 L395.6 205.9 L396.5 209.9 L396.9 213.2 L397.4 211.7 L398.3 210.9 L399.2 212.8 L400.1 212.4 L400.7 210.7 L401.0 212.8 L401.9 215.9 L402.8 220.2 L403.3 223.6 L403.7 222.7 L404.6 223.0 L405.5 221.6 L406.4 222.2 L406.9 222.2 L407.3 222.4 L408.2 227.0 L409.1 229.3 L410.0 230.1 L410.8 231.9 L410.9 230.7 L411.8 229.9 L412.7 224.5 L412.7 225.1 L413.6 228.8 L414.5 231.8 L415.4 237.4 L415.6 238.7 L416.3 237.2 L417.2 235.5 L418.1 232.7 L419.0 231.9 L419.5 230.9 L419.9 233.3 L420.8 243.4 L421.4 250.3 L421.7 251.5 L422.6 260.4 L423.4 267.7 L423.5 265.9 L424.4 263.4 L425.3 261.9 L426.2 259.3 L426.3 259.9 L427.1 261.0 L428.0 261.7 L428.9 263.4 L429.8 264.0 L430.1 263.8 L430.7 265.9 L431.6 268.6 L432.5 269.1 L433.0 270.6 L433.4 266.9 L434.3 262.2 L435.0 255.1 L435.2 253.9 L436.1 255.6 L437.0 255.1 L437.9 252.8 L438.8 255.2 L438.8 254.1 L439.7 260.6 L440.6 264.8 L441.5 270.3 L442.4 275.7 L442.7 276.4 L443.3 272.6 L444.2 270.0 L445.1 266.0 L445.6 263.8 L446.0 264.9 L446.9 264.8 L447.8 264.9 L448.7 264.1 L449.6 265.1 L450.4 263.8 L450.5 264.4 L451.4 263.8 L452.3 261.6 L453.2 260.4 L453.3 261.9 L454.1 269.7 L455.0 280.7 L455.9 290.0 L456.2 294.7 L456.8 293.9 L457.7 289.9 L458.6 287.2 L459.1 285.1 L459.5 287.9 L460.4 293.5 L461.3 298.3 L462.0 302.5 L462.2 300.8 L463.1 303.5 L464.0 303.3 L464.9 302.5 L465.8 302.6 L466.7 303.0 L466.9 302.5 L467.6 302.0 L468.5 305.5 L469.4 305.1 L470.3 305.8 L471.2 307.7 L471.7 309.2 L472.1 309.6 L473.0 306.9 L473.9 307.9 L474.8 307.8 L475.6 305.4 L475.7 304.7 L476.6 298.7 L477.5 293.3 L478.4 288.3 L478.5 287.0 L479.3 291.4 L480.2 294.8 L481.1 298.8 L481.4 299.6 L482.0 299.2 L482.9 301.0 L483.8 303.0 L484.7 306.2 L485.2 306.3 L485.6 302.7 L486.5 296.9 L487.4 288.3 L488.3 281.8 L489.1 277.3 L489.2 276.3 L490.1 275.4 L491.0 273.3 L491.9 271.0 L492.8 267.5 L493.0 267.7 L493.7 272.4 L494.6 278.2 L495.5 284.2 L495.9 287.0 L496.4 287.4 L497.3 293.0 L498.2 293.7 L498.8 296.7 L499.1 297.1 L500.0 293.3 L500.7 288.9 L500.9 288.8 L501.8 297.2 L502.7 305.4 L503.6 312.8 L503.6 311.2 L504.5 308.3 L505.4 305.0 L506.3 302.1 L506.5 302.5 L507.2 306.1 L508.1 306.3 L509.0 310.2 L509.9 311.4 L510.4 314.1 L510.8 315.8 L511.7 320.9 L512.6 321.7 L513.5 327.7 L514.4 330.2 L515.2 333.4 L515.3 334.0 L516.2 327.2 L517.1 319.4 L518.0 315.5 L518.9 307.9 L519.0 307.3 L519.8 312.6 L520.7 320.4 L521.6 329.9 L522.0 333.4 L522.5 331.6 L523.4 328.2 L524.3 324.8 L525.2 322.5 L526.1 319.5 L526.8 317.9 L527.0 319.0 L527.9 315.8 L528.8 318.0 L529.7 317.9 L530.6 315.1 L531.5 317.5 L531.6 316.0 L532.4 312.0 L533.3 307.3 L534.2 299.8 L535.1 294.7 L535.5 292.8 L536.0 294.8 L536.9 301.0 L537.8 303.8 L538.4 306.3 L538.7 304.4 L539.6 300.5 L540.5 295.8 L541.3 292.8 L541.4 292.0 L542.3 298.4 L543.2 307.2 L544.1 311.7 L544.2 313.1 L545.0 312.1 L545.9 307.1 L546.8 304.4 L547.7 302.5 L548.0 301.5 L548.6 300.8 L549.5 302.1 L550.4 304.7 L551.3 305.0 L552.2 305.4 L553.1 305.4 L553.8 305.4 L554.0 307.2 L554.9 308.9 L555.8 309.2 L556.7 311.4 L557.6 310.8 L558.5 314.8 L559.4 315.5 L559.6 316.0 L560.3 317.3 L561.2 317.6 L562.1 317.0 L563.0 316.8 L563.9 320.3 L564.8 318.2 L565.4 319.9 L565.7 319.7 L566.6 318.8 L567.5 318.2 L568.4 319.2 L569.3 319.6 L570.2 316.7 L571.1 317.6 L571.2 317.0 L572.0 317.6 L572.9 319.9 L573.8 320.7 L574.7 321.4 L575.6 322.8 L576.1 324.7 L576.5 322.9 L577.4 323.5 L578.3 320.3 L579.2 317.5 L580.1 318.1 L581.0 316.6 L581.9 312.9 L581.9 313.1 L582.8 310.4 L583.7 309.2 L584.6 307.4 L585.5 306.8 L586.4 304.5 L586.7 305.4 L587.3 310.1 L587.8 315.6 L588.2 318.2 L589.1 326.8 L589.3 328.3 L590.0 332.9 L590.9 336.8 L591.4 338.3 L591.8 343.7 L592.7 356.4 L592.8 358.1 L593.6 359.0 L594.5 359.4 L595.4 360.2 L595.6 361.0 L596.3 358.9 L597.2 359.0 L598.1 360.6 L599.0 357.0 L599.2 358.1 L599.9 359.7 L600.8 362.1 L601.7 364.9 L602.6 364.7 L602.7 365.9 L603.5 366.5 L604.4 368.1 L605.3 370.2 L606.2 371.9 L606.3 372.3 L607.1 371.4 L608.0 368.3 L608.9 365.7 L609.8 360.1 L609.8 361.7 L610.7 360.6 L611.6 363.5 L612.5 364.7 L613.3 363.8 L613.4 363.7 L614.3 363.5 L615.2 361.0 L616.1 361.8 L616.9 361.7 L617.0 363.2 L617.9 363.6 L618.8 364.5 L619.7 365.7 L620.6 364.0 L621.5 364.2 L621.9 365.9 L622.4 364.7 L623.3 365.8 L624.2 366.2 L625.1 367.0 L626.0 366.1 L626.9 365.8 L627.5 365.2 L627.8 366.5 L628.7 366.6 L629.6 368.1 L630.5 367.5 L631.4 371.2 L632.3 370.4 L632.5 371.6 L633.2 373.0 L634.1 372.1 L635.0 370.9 L635.9 370.3 L636.8 370.8 L637.7 372.1 L638.6 372.3 L639.5 370.3 L640.4 370.1 L641.3 371.7 L641.7 371.6 L642.2 372.0 L643.1 371.6 L644.0 371.2 L644.9 372.7 L645.8 370.9 L646.7 372.2 L647.4 373.0 L647.6 373.0 L648.5 375.5 L649.4 375.2 L650.3 376.8 L651.2 376.3 L652.1 376.2 L652.3 377.3 L653.0 375.4 L653.9 376.5 L654.8 374.3 L655.2 373.0 L655.7 372.7 L656.6 372.3 L657.5 374.5 L658.4 375.6 L659.3 375.4 L660.2 375.4 L661.1 377.4 L662.0 378.8 L662.9 377.0 L663.0 378.0 L663.8 376.3 L664.7 377.2 L665.6 377.3 L666.5 378.0 L667.2 377.3 L667.4 375.0 L668.3 371.6 L668.6 368.7 L669.2 369.8 L670.1 369.3 L671.0 368.7 L671.9 371.7 L672.2 370.2 L672.8 366.8 L673.7 364.3 L674.6 358.1 L675.5 353.9 L675.7 353.9 L676.4 353.0 L677.3 349.1 L678.2 349.1 L678.5 346.8 L679.1 348.3 L680.0 349.4 L680.9 351.7 L681.4 353.9 L681.8 353.0 L682.7 352.6 L683.6 352.3 L684.5 348.3 L684.9 348.9 L685.4 349.1 L686.3 349.6 L687.2 353.3 L688.1 351.5 L688.5 353.2 L689.0 352.5 L689.9 354.0 L690.8 356.6 L691.7 359.8 L692.6 361.2 L693.5 362.2 L694.1 362.4 L694.4 363.9 L695.3 363.3 L696.2 360.7 L697.1 359.8 L698.0 361.9 L698.4 360.2 L698.9 361.3 L699.8 359.3 L700.7 362.0 L701.6 361.5 L702.5 361.9 L702.6 362.4 L703.4 361.5 L704.3 360.5 L705.2 359.6 L706.1 360.1 L707.0 360.0 L707.6 360.2 L707.9 359.8 L708.8 351.3 L709.7 348.4 L709.7 346.8 L710.6 346.7 L711.5 348.1 L712.4 350.5 L713.3 351.4 L713.3 350.3 L714.2 350.5 L715.1 349.7 L716.0 351.6 L716.9 351.7 L717.5 352.4 L717.8 352.9 L718.7 347.5 L719.6 345.3 L720.4 343.2 L720.5 344.8 L721.4 343.6 L722.3 346.8 L723.2 350.0 L723.2 348.9 L724.1 351.6 L725.0 351.0 L725.9 352.8 L726.0 354.6 L726.8 358.2 L727.7 366.8 L728.6 370.3 L728.9 373.0 L729.5 375.7 L730.4 378.9 L731.3 379.7 L732.2 382.2 L732.4 383.6 L733.1 387.5 L734.0 389.5 L734.9 391.3 L735.3 393.5 L735.8 394.7 L736.7 394.0 L737.6 394.6 L738.5 394.5 L738.8 396.4 L739.4 395.8 L740.3 394.2 L741.2 391.0 L742.1 389.9 L742.3 387.9 L743.0 386.1 L743.9 386.5 L744.8 387.0 L745.7 388.3 L746.6 388.0 L746.6 386.5 L747.5 382.9 L748.4 379.2 L749.3 376.6 L749.4 376.5 L750.2 379.8 L751.1 385.0 L752.0 386.3 L752.3 388.6 L752.9 389.8 L753.8 389.9 L754.7 390.5 L755.6 390.6 L756.5 390.4 L756.5 390.0 L757.4 386.9 L758.3 384.4 L759.2 382.0 L759.3 382.2 L760.1 381.3 L761.0 376.9 L761.9 375.2 L762.8 375.0 L763.6 372.3 L763.7 371.4 L764.6 370.0 L765.5 369.2 L766.4 370.2 L767.1 369.5 L767.3 368.4 L768.2 368.1 L769.1 365.2 L770.0 363.1 L770.7 359.5 L770.9 359.4 L771.8 361.7 L772.7 364.6 L773.6 368.9 L774.2 370.9 L774.5 371.4 L775.4 369.9 L776.3 368.6 L777.2 368.6 L778.1 368.7 L778.5 368.0 L779.0 368.6 L779.9 369.0 L780.8 369.4 L781.7 368.8 L782.6 367.1 L783.5 369.6 L784.4 367.8 L785.3 368.8 L785.7 368.6 L786.2 368.0 L787.1 368.9 L788.0 366.8 L788.9 366.7 L789.8 366.4 L789.9 367.2 L790.7 370.1 L791.3 374.3 L791.6 375.4 L792.5 373.7 L793.4 372.1 L794.2 372.1 L794.3 371.7 L795.2 373.8 L796.1 372.1 L797.0 371.2 L797.9 373.1 L798.4 372.1 L798.8 373.2 L799.7 375.6 L800.6 373.8 L801.5 376.3 L802.0 377.1 L802.4 377.9 L803.3 377.3 L804.2 376.9 L805.1 373.3 L806.0 373.5 L806.9 372.3 L806.9 373.6 L807.8 373.8 L808.7 377.8 L809.6 377.8 L809.8 377.8 L810.5 378.5 L811.4 375.6 L812.3 376.2 L813.2 373.8 L814.1 372.1 L815.0 372.9 L815.9 372.4 L816.1 370.7 L816.8 369.9 L817.7 372.2 L818.6 372.9 L819.5 372.2 L820.4 373.3 L821.1 374.3 L821.3 373.3 L822.2 374.4 L823.1 375.4 L824.0 377.5 L824.9 378.5 L825.8 377.9 L826.7 378.1 L826.8 379.9 L827.6 378.3 L828.5 378.3 L829.4 375.5 L830.3 374.7 L831.2 373.2 L832.1 374.0 L833.0 372.0 L833.9 369.2 L833.9 370.7 L834.8 370.1 L835.7 372.0 L836.6 373.3 L837.5 374.4 L838.4 373.3 L839.3 374.4 L839.5 375.7 L840.2 377.5 L841.1 377.9 L842.0 378.9 L842.9 380.3 L843.8 383.9 L844.5 383.5 L844.7 382.2 L845.6 380.0 L846.5 376.3 L846.6 376.4 L847.4 376.4 L848.3 378.1 L849.2 378.9 L850.1 377.0 L851.0 376.7 L851.9 378.7 L852.8 377.2 L853.7 376.8 L853.7 378.5 L854.6 376.0 L855.5 370.6 L856.4 368.1 L857.2 363.6 L857.3 361.8 L858.2 349.8 L858.7 341.0 L859.1 338.8 L860.0 333.3 L860.9 328.2 L861.5 326.8 L861.8 325.1 L862.7 320.0 L863.6 315.4 L863.6 314.0 L864.5 315.5 L865.4 320.1 L866.3 322.1 L867.2 325.4 L867.2 325.4 L868.1 322.1 L869.0 320.4 L869.3 320.4 L869.9 322.4 L870.8 326.8 L871.7 327.0 L872.1 329.6 L872.6 331.4 L873.5 335.7 L874.4 339.5 L875.3 340.2 L876.2 343.2 L876.4 345.2 L877.1 345.3 L878.0 343.6 L878.9 340.1 L879.2 339.5 L879.8 339.0 L880.7 343.6 L881.6 343.4 L882.5 346.7 L882.8 345.9 L883.4 345.7 L884.3 345.5 L885.2 342.3 L886.1 343.6 L887.0 340.8 L887.7 341.0 L887.9 341.8 L888.8 348.2 L889.1 348.7 L889.7 348.5 L890.6 344.4 L891.5 342.6 L892.4 341.3 L893.3 339.8 L893.4 339.5 L894.2 339.1 L895.1 338.2 L896.0 338.6 L896.9 340.3 L897.8 340.9 L898.7 337.9 L899.1 339.5 L899.6 337.9 L900.5 335.4 L901.4 329.8 L902.3 329.3 L903.2 323.7 L903.3 324.6 L904.1 326.9 L905.0 329.0 L905.9 331.5 L906.8 332.7 L907.6 335.3 L907.7 334.5 L908.6 330.5 L909.5 325.4 L910.4 321.6 L910.4 321.1 L911.3 316.8 L912.2 312.7 L913.1 307.3 L914.0 305.2 L914.0 304.8 L914.9 304.1 L915.8 302.5 L916.7 303.6 L917.6 302.9 L918.5 301.1 L919.4 299.4 L920.3 299.7 L920.3 299.8 L921.2 295.4 L922.1 292.4 L923.0 290.3 L923.2 289.9 L923.9 288.0 L924.8 288.4 L925.7 287.9 L926.6 285.6 L926.7 287.1 L927.5 289.8 L928.4 290.5 L929.3 295.2 L930.2 297.9 L930.2 297.0 L931.1 299.7 L932.0 300.8 L932.9 305.1 L933.8 307.3 L934.5 309.8 L934.7 310.1 L935.6 301.9 L936.5 298.9 L937.3 292.8 L937.4 294.6 L938.3 295.2 L939.2 297.0 L940.1 296.3 L941.0 300.5 L941.6 299.8 L941.9 299.5 L942.8 300.2 L943.7 299.1 L944.6 295.7 L945.5 296.9 L946.4 296.5 L947.3 292.6 L948.2 292.7 L949.1 293.2 L949.4 292.0 L950.0 291.9 L950.9 296.0 L951.8 295.5 L952.2 297.0 L952.7 298.1 L953.6 295.8 L954.5 297.0 L955.4 298.4 L956.3 296.0 L957.2 296.2 L957.2 297.0 L958.1 301.3 L959.0 304.9 L959.3 306.9 L959.9 304.8 L960.8 304.5 L961.7 303.6 L962.6 305.5 L963.5 303.8 L964.4 303.8 L965.3 300.5 L965.7 301.3 L966.2 303.3 L967.1 302.8 L968.0 306.1 L968.9 308.2 L969.8 309.1 L970.6 311.2 L970.7 312.2 L971.6 308.7 L972.5 306.4 L973.4 305.1 L974.3 300.0 L974.9 299.8 L975.2 306.6 L975.8 315.1 L976.1 315.0 L977.0 312.7 L977.9 312.5 L978.8 309.1 L979.2 309.2 L979.7 312.3 L980.6 313.4 L981.5 315.2 L982.4 319.1 L983.3 320.5 L983.4 321.0 L984.2 318.7 L985.1 319.4 L986.0 315.7 L986.9 317.0 L987.8 313.8 L988.7 313.8 L989.2 312.6 L989.6 314.2 L990.5 312.9 L991.4 313.2 L992.3 312.0 L993.2 310.9 L994.1 311.0 L995.0 311.4 L995.1 312.6 L995.9 316.5 L996.8 319.9 L996.8 320.1 L997.7 320.5 L998.6 322.2 L999.5 319.9 L1000.4 320.6 L1001.0 321.8 L1001.3 322.5 L1002.2 320.9 L1003.1 321.4 L1004.0 323.1 L1004.9 322.8 L1005.2 324.3 L1005.8 325.5 L1006.7 327.7 L1007.6 331.4 L1008.5 334.0 L1009.4 335.3 L1010.2 338.6 L1010.3 338.8 L1011.2 336.8 L1012.1 334.0 L1013.0 335.2 L1013.9 331.3 L1014.8 329.4 L1015.7 327.6 L1016.0 328.5 L1016.6 330.9 L1017.5 334.6 L1018.4 337.2 L1018.6 336.9 L1019.3 337.0 L1020.2 337.2 L1021.1 336.9 L1022.0 339.6 L1022.9 339.9 L1023.6 340.2 L1023.8 339.7 L1024.7 340.7 L1025.6 340.0 L1026.5 341.7 L1027.4 341.0 L1028.3 339.3 L1028.6 340.2 L1029.2 342.4 L1030.1 340.8 L1031.0 343.7 L1031.9 344.5 L1032.8 345.2 L1032.8 346.1 L1033.7 344.9 L1034.6 347.7 L1035.5 345.4 L1036.4 347.6 L1037.3 349.3 L1038.2 346.9 L1039.1 347.4 L1039.5 348.6 L1040.0 350.8 L1040.9 353.8 L1041.8 357.5 L1042.0 357.8 L1042.7 361.8 L1043.6 363.4 L1044.5 367.7 L1045.4 371.4 L1045.4 372.1 L1046.3 370.2 L1047.2 372.7 L1048.1 372.0 L1049.0 371.4 L1049.6 370.4 L1049.9 368.6 L1050.8 371.1 L1051.7 370.3 L1052.6 369.0 L1053.5 369.5 L1054.4 368.2 L1055.3 367.0 L1055.4 367.9 L1056.2 367.1 L1057.1 368.1 L1058.0 368.0 L1058.9 369.5 L1059.8 371.5 L1060.7 371.9 L1061.6 373.0 L1062.1 372.1 L1062.5 372.8 L1063.4 371.3 L1064.3 372.3 L1065.2 371.9 L1066.1 373.1 L1067.0 372.2 L1067.9 371.3 L1068.8 372.6 L1069.7 373.7 L1069.7 372.1 L1070.6 371.4 L1071.5 373.9 L1072.4 371.2 L1073.3 372.3 L1074.2 372.4 L1075.1 374.4 L1075.5 373.7 L1076.0 375.8 L1076.9 376.1 L1077.8 375.7 L1078.7 378.6 L1079.6 377.8 L1080.5 378.5 L1081.4 381.8 L1082.2 381.3 L1082.3 381.8 L1083.2 382.1 L1084.1 382.1 L1085.0 383.2 L1085.9 381.6 L1086.8 382.9 L1087.7 382.6 L1088.6 383.2 L1089.5 381.9 L1089.8 382.1 L1090.4 382.7 L1091.3 382.0 L1092.2 380.9 L1093.1 380.4 L1094.0 381.6 L1094.9 379.5 L1095.8 382.1 L1096.7 379.3 L1097.3 380.4 L1097.6 378.8 L1098.5 379.2 L1099.4 382.1 L1100.3 380.3 L1101.2 379.7 L1102.1 379.4 L1103.0 379.6 L1103.9 381.9 L1104.0 381.3 L1104.8 383.6 L1105.7 385.9 L1106.5 387.1 L1106.6 387.4 L1107.5 380.9 L1108.4 378.5 L1109.0 375.4 L1109.3 374.8 L1110.2 376.0 L1111.1 375.6 L1112.0 375.5 L1112.9 372.3 L1113.8 374.6 L1114.7 374.4 L1114.9 372.9 L1115.6 375.1 L1116.5 373.2 L1117.4 374.4 L1118.3 375.0 L1119.2 375.6 L1120.1 379.3 L1120.8 378.8 L1121.0 380.0 L1121.9 379.9 L1122.8 381.2 L1123.7 381.1 L1124.6 380.5 L1125.5 380.4 L1126.4 380.9 L1127.3 383.7 L1127.5 383.0 L1128.2 382.6 L1129.1 383.7 L1130.0 384.8 L1130.9 384.2 L1131.8 385.7 L1132.5 387.1 L1132.7 386.2 L1133.6 387.0 L1134.5 385.1 L1135.4 384.2 L1136.3 385.7 L1137.2 383.5 L1138.1 384.0 L1139.0 382.5 L1139.9 379.8 L1140.0 381.3 L1140.8 382.8 L1141.7 384.8 L1142.6 387.9 L1143.5 388.4 L1144.2 390.5 L1144.4 391.6 L1145.3 392.8 L1146.2 393.5 L1147.1 397.5 L1148.0 396.7 L1148.9 401.0 L1149.2 400.5 L1149.8 401.4 L1150.7 403.9 L1151.6 407.7 L1152.5 412.6 L1153.4 416.4 L1153.4 414.8 L1154.3 412.9 L1155.2 414.4 L1156.1 414.3 L1157.0 415.1 L1157.6 414.0 L1157.9 412.3 L1158.8 411.6 L1159.7 409.3 L1160.6 409.1 L1161.0 407.2 L1161.5 406.7 L1162.4 409.7 L1163.3 408.0 L1164.2 408.4 L1165.1 410.7 L1166.0 410.6 L1166.0 410.6 L1166.9 409.6 L1167.8 411.7 L1168.7 410.2 L1169.6 412.9 L1170.0 412.1 L1170.5 412.9 L1171.4 413.6 L1172.3 413.3 L1173.2 412.7 L1174.1 413.2 L1174.3 413.6 L1175.0 413.0 L1175.9 414.4 L1176.8 411.3 L1177.7 413.7 L1178.5 412.1 L1178.6 410.5 L1179.5 411.6 L1180.4 412.3 L1181.3 414.9 L1182.2 414.0 L1183.1 414.0 L1184.0 416.2 L1184.2 415.0 L1184.9 412.6 L1185.8 411.5 L1186.7 409.8 L1187.6 408.7 L1188.5 406.8 L1189.4 404.5 L1190.3 401.6 L1190.6 401.5 L1191.2 401.2 L1192.1 401.0 L1193.0 403.7 L1193.9 403.5 L1194.8 404.1 L1195.5 403.6 L1195.7 402.4 L1196.6 403.0 L1197.5 403.9 L1198.4 402.9 L1199.3 401.1 L1199.8 402.2 L1200.2 402.6 L1201.1 405.2 L1202.0 404.1 L1202.6 405.8 L1202.9 403.0 L1203.8 398.2 L1204.7 393.7 L1204.7 394.4 L1205.6 392.4 L1206.5 387.7 L1207.4 385.3 L1207.6 385.9 L1208.3 387.2 L1209.2 390.2 L1209.7 392.3 L1210.1 392.2 L1211.0 390.5 L1211.9 390.6 L1212.5 390.9 L1212.8 390.1 L1213.7 393.7 L1214.6 393.7 L1215.5 392.5 L1216.4 396.3 L1216.8 395.1 L1217.3 392.6 L1218.2 391.5 L1219.1 391.5 L1219.6 388.7 L1220.0 390.0 L1220.9 390.6 L1221.8 390.3 L1222.7 390.3 L1223.6 392.5 L1223.9 392.3 L1224.5 391.7 L1225.4 393.1 L1226.3 394.8 L1227.2 394.7 L1227.4 396.5 L1228.1 394.9 L1229.0 394.7 L1229.9 392.8 L1230.8 390.6 L1231.0 390.2 L1231.7 391.0 L1232.6 390.9 L1233.5 390.2 L1234.4 392.3 L1235.2 392.3 L1235.3 392.2 L1236.2 395.3 L1237.1 397.9 L1238.0 398.3 L1238.7 400.1 L1238.9 400.2 L1239.8 399.8 L1240.7 397.8 L1241.6 396.3 L1242.5 397.1 L1243.4 396.7 L1243.7 395.1 L1244.3 396.8 L1245.2 397.8 L1246.1 399.5 L1247.0 400.1 L1247.9 401.1 L1248.0 400.8 L1248.8 401.3 L1249.7 401.5 L1250.6 403.3 L1251.5 403.6 L1251.5 402.2 L1252.4 403.8 L1253.3 405.5 L1254.2 405.7 L1255.1 405.9 L1256.0 405.0 L1256.9 406.1 L1257.2 406.5 L1257.8 402.9 L1258.7 398.3 L1259.3 394.4 L1259.6 394.2 L1260.5 395.4 L1261.4 396.5 L1262.3 394.2 L1263.2 396.1 L1264.1 396.8 L1265.0 395.7 L1265.9 396.3 L1266.4 396.5 L1266.8 398.0 L1267.7 394.5 L1268.6 395.9 L1269.5 394.3 L1270.4 396.1 L1270.6 395.1 L1271.3 395.7 L1272.2 393.1 L1273.1 390.5 L1274.0 390.9 L1274.9 389.5 L1274.9 389.6 L1275.8 386.9 L1276.7 383.0 L1277.6 380.1 L1278.4 376.7 L1278.5 377.0 L1279.4 368.4 L1280.3 360.5 L1280.6 358.3 L1281.2 359.7 L1282.1 357.1 L1283.0 358.5 L1283.9 357.4 L1284.8 357.6 L1284.8 358.5 L1285.7 359.7 L1286.6 366.1 L1287.5 367.3 L1287.6 368.2 L1288.4 368.3 L1289.3 370.8 L1290.2 373.0 L1290.5 373.9 L1291.1 372.0 L1292.0 373.1 L1292.9 372.8 L1293.8 373.4 L1294.7 372.4 L1294.7 371.9 L1295.6 372.8 L1296.5 373.8 L1297.4 376.8 L1298.3 378.7 L1299.0 378.1 L1299.2 378.1 L1300.1 376.6 L1301.0 378.1 L1301.9 376.3 L1302.8 375.3 L1303.7 374.5 L1304.6 376.3 L1304.7 375.3 L1305.5 376.5 L1306.4 376.0 L1307.3 375.5 L1308.2 375.9 L1309.1 374.9 L1310.0 377.5 L1310.3 376.0 L1310.9 376.1 L1311.8 378.0 L1312.7 379.5 L1313.6 380.4 L1314.5 380.1 L1315.4 380.4 L1316.3 382.2 L1316.7 382.4 L1317.2 378.9 L1318.1 377.4 L1318.8 373.2 L1319.0 372.8 L1319.9 374.9 L1320.8 373.4 L1321.7 374.2 L1322.6 374.2 L1323.1 375.3 L1323.5 375.1 L1324.4 374.4 L1325.3 373.8 L1326.2 376.4 L1327.1 375.0 L1328.0 374.9 L1328.9 375.2 L1329.8 375.9 L1330.2 376.0 L1330.7 374.1 L1331.6 371.7 L1332.3 368.9 L1332.5 368.2 L1333.4 361.8 L1333.7 360.4 L1334.3 363.7 L1335.2 366.3 L1336.1 366.4 L1337.0 371.9 L1337.3 371.7 L1337.9 372.1 L1338.8 370.3 L1339.7 366.7 L1340.6 367.6 L1341.5 365.5 L1342.2 363.9 L1342.4 362.2 L1343.3 362.0 L1344.2 365.0 L1345.1 363.8 L1346.0 362.2 L1346.9 361.5 L1347.8 361.5 L1348.6 362.5 L1348.7 361.4 L1349.6 362.0 L1350.5 359.2 L1351.4 357.2 L1352.3 358.4 L1352.9 356.1 L1353.2 357.0 L1354.1 354.6 L1355.0 356.8 L1355.9 355.6 L1356.8 355.9 L1357.7 355.3 L1358.6 355.8 L1359.5 355.1 L1360.0 354.0 L1360.4 356.8 L1361.3 358.3 L1362.2 363.6 L1362.8 365.4 L1363.1 364.9 L1364.0 363.8 L1364.9 360.9 L1365.8 360.6 L1366.3 358.3 L1366.7 358.4 L1367.6 357.3 L1368.5 357.0 L1369.4 356.5 L1370.0 357.6 L1370.3 361.5 L1370.7 366.8 L1371.2 364.6 L1372.1 364.8 L1373.0 362.5 L1373.9 362.4 L1374.8 361.2 L1374.9 361.1 L1375.7 362.0 L1376.6 364.0 L1377.5 362.0 L1378.4 365.8 L1379.3 365.4 L1379.9 366.1 L1380.2 365.9 L1381.1 364.9 L1382.0 364.3 L1382.9 361.4 L1383.4 361.1 L1383.8 361.0 L1384.7 363.3 L1385.6 360.7 L1386.5 363.1 L1387.4 363.5 L1387.7 363.2 L1388.3 361.7 L1389.2 363.8 L1390.1 364.1 L1391.0 365.1 L1391.9 363.1 L1392.8 365.5 L1393.3 363.9 L1393.7 363.9 L1394.6 363.7 L1395.5 365.0 L1396.4 362.0 L1397.3 364.2 L1398.2 363.8 L1399.1 362.7 L1399.7 363.2 L1400.0 363.4 L1400.9 358.5 L1401.8 355.7 L1401.9 355.4 L1402.7 354.0 L1403.6 353.1 L1404.5 349.5 L1405.4 348.6 L1406.3 346.9 L1406.8 346.2 L1407.2 349.6 L1408.1 357.9 L1408.2 357.6 L1409.0 358.9 L1409.9 363.0 L1410.4 363.2 L1410.8 363.0 L1411.7 363.5 L1412.6 362.9 L1413.5 363.8 L1413.9 363.9 L1414.4 364.7 L1415.3 362.2 L1416.2 361.2 L1417.1 358.2 L1417.4 358.3 L1418.0 358.2 L1418.9 358.9 L1419.8 360.7 L1420.7 361.6 L1421.6 362.9 L1422.5 361.1 L1423.1 363.2 L1423.4 363.8 L1424.3 363.8 L1425.2 362.1 L1426.1 359.9 L1427.0 360.2 L1427.9 358.7 L1428.8 358.8 L1429.7 360.7 L1430.2 359.0 L1430.6 360.1 L1431.5 361.8 L1432.4 363.8 L1433.0 363.9 L1433.3 365.3 L1434.2 364.5 L1435.1 364.7 L1436.0 364.9 L1436.9 365.3 L1437.8 365.1 L1438.7 365.5 L1439.6 364.1 L1440.5 365.8 L1441.4 365.2 L1441.5 365.4 L1442.3 379.5 L1442.3 380.4 L1443.2 377.8 L1444.1 377.8 L1445.0 377.0 L1445.9 379.2 L1446.5 378.1 L1446.8 379.9 L1447.7 380.2 L1448.6 380.4 L1449.5 383.2 L1450.4 384.3 L1451.3 384.7 L1452.2 384.8 L1452.9 386.6 L1453.1 385.8 L1454.0 385.8 L1454.9 385.0 L1455.8 384.9 L1456.7 385.2 L1457.6 385.8 L1458.5 382.3 L1458.6 383.8 L1459.4 384.5 L1460.3 383.2 L1461.2 384.0 L1462.1 386.9 L1463.0 386.6 L1463.5 386.6 L1463.9 385.7 L1464.8 379.0 L1465.6 374.6 L1465.7 373.6 L1466.6 380.8 L1467.1 384.5 L1467.5 384.9 L1468.4 386.4 L1469.3 386.8 L1470.2 385.3 L1471.1 385.4 L1472.0 384.6 L1472.9 386.7 L1473.8 385.5 L1474.1 386.6 L1474.7 384.9 L1475.6 383.7 L1476.5 383.0 L1477.4 384.5 L1478.3 381.9 L1478.4 383.1 L1479.2 385.2 L1480.1 382.8 L1481.0 386.1 L1481.9 384.2 L1482.6 385.9 L1482.8 384.3 L1483.7 387.1 L1484.6 385.8 L1485.5 387.8 L1486.4 386.3 L1487.3 386.2 L1488.2 389.0 L1489.1 389.2 L1489.7 388.7 L1490.0 393.2 L1490.9 402.5 L1491.2 405.0 L1491.8 403.9 L1492.7 406.1 L1493.6 406.8 L1494.5 406.4 L1495.4 408.4 L1496.3 406.5 L1497.2 409.3 L1497.5 407.9 L1498.1 409.0 L1499.0 407.0 L1499.9 407.5 L1500.8 410.2 L1501.7 411.2 L1502.6 409.2 L1503.5 410.5 L1504.4 412.4 L1505.3 412.1 L1505.3 411.0 L1506.2 411.6 L1507.1 408.7 L1508.0 405.5 L1508.9 404.9 L1509.8 403.9 L1510.7 401.7 L1511.6 400.8 L1512.4 398.7 L1512.5 397.8 L1513.4 402.4 L1514.3 403.3 L1515.2 406.7 L1515.3 406.5 L1516.1 405.7 L1517.0 403.6 L1517.9 402.1 L1518.8 402.1 L1519.5 400.1 L1519.7 401.9 L1520.6 402.8 L1521.5 403.4 L1522.4 403.9 L1523.3 404.5 L1524.2 409.0 L1524.5 407.9 L1525.1 408.0 L1526.0 407.7 L1526.9 405.2 L1527.8 405.3 L1528.7 405.7 L1529.6 404.4 L1530.5 402.8 L1530.8 402.2 L1531.4 402.3 L1532.3 403.9 L1533.2 406.7 L1534.1 406.2 L1535.0 408.4 L1535.1 407.9 L1535.9 395.7 L1536.5 385.9 L1536.8 387.4 L1537.7 387.6 L1538.6 386.2 L1539.5 385.7 L1540.4 387.1 L1541.3 388.1 L1542.2 389.1 L1543.1 390.3 L1543.6 389.5 L1544.0 391.1 L1544.9 388.7 L1545.8 392.0 L1546.7 392.5 L1547.6 393.2 L1548.5 392.8 L1549.3 393.0 L1549.4 392.2 L1550.3 393.7 L1551.2 393.1 L1552.1 392.2 L1553.0 392.6 L1553.5 390.9 L1553.9 390.5 L1554.8 390.0 L1555.7 391.9 L1556.6 393.0 L1556.8 392.1 L1557.5 392.1 L1558.4 395.3 L1559.3 397.2 L1560.2 396.1 L1561.1 398.7 L1562.0 400.3 L1562.9 400.9 L1563.8 401.3 L1564.7 402.8 L1565.6 405.8 L1566.0 405.5 L1566.5 406.4 L1567.4 405.1 L1568.3 403.7 L1569.2 405.9 L1570.1 405.6 L1570.2 404.7 L1571.0 415.6 L1571.0 414.7 L1571.9 415.1 L1572.8 415.4 L1573.7 414.6 L1574.6 412.6 L1575.5 411.7 L1576.4 411.3 L1576.9 410.6 L1577.3 406.5 L1578.2 399.6 L1579.1 392.7 L1580.0 387.6 L1580.2 385.4 L1580.9 392.6 L1581.8 403.0 L1581.9 403.9 L1582.7 402.8 L1583.6 402.2 L1584.5 400.1 L1585.4 398.8 L1586.3 401.1 L1586.9 398.8 L1587.2 398.3 L1588.1 397.1 L1589.0 398.6 L1589.9 398.8 L1590.8 396.4 L1591.7 397.6 L1591.9 397.2 L1592.6 395.6 L1593.5 394.9 L1594.4 391.8 L1595.3 392.1 L1595.3 390.5 L1596.2 393.4 L1597.1 392.6 L1598.0 391.0 L1598.9 390.9 L1599.8 389.5 L1600.7 390.9 L1601.6 389.4 L1602.5 390.8 L1603.4 389.8 L1603.7 388.8 L1604.3 391.1 L1605.2 393.4 L1606.1 392.8 L1607.0 395.5 L1607.0 393.9 L1607.9 391.4 L1608.8 388.2 L1609.7 384.8 L1610.4 383.8 L1610.6 382.1 L1611.5 383.2 L1612.4 383.7 L1613.3 381.7 L1614.2 382.7 L1615.1 382.0 L1615.4 380.4 L1616.0 379.5 L1616.9 382.3 L1617.8 382.5 L1618.7 383.8 L1618.7 382.5 L1619.6 383.8 L1620.5 379.9 L1621.4 379.3 L1622.1 377.9 L1622.3 378.6 L1623.2 380.7 L1624.1 380.8 L1625.0 381.0 L1625.9 382.2 L1626.8 382.3 L1627.1 383.8 L1627.7 385.5 L1628.6 385.7 L1629.5 383.2 L1630.4 382.8 L1631.3 383.6 L1632.2 384.1 L1633.1 386.1 L1634.0 386.3 L1634.9 386.2 L1635.8 383.6 L1636.7 386.3 L1637.2 385.4 L1637.6 386.5 L1638.5 387.2 L1639.4 389.3 L1640.3 387.1 L1640.5 388.8 L1641.2 387.2 L1642.1 388.7 L1643.0 388.9 L1643.9 387.4 L1644.8 385.6 L1645.7 386.1 L1646.4 385.4 L1646.6 386.4 L1647.5 384.9 L1648.4 386.4 L1649.3 386.9 L1650.2 387.2 L1650.6 388.8 L1651.1 387.6 L1652.0 384.6 L1652.9 382.9 L1653.8 380.6 L1654.7 380.5 L1655.6 377.9 L1655.6 376.2 L1656.5 380.1 L1657.4 379.8 L1658.3 380.7 L1659.2 385.2 L1660.1 384.3 L1661.0 388.2 L1661.9 389.4 L1662.3 388.8 L1662.8 390.3 L1663.7 388.1 L1664.6 389.4 L1665.5 388.5 L1666.4 391.7 L1667.3 390.5 L1667.3 391.7 L1668.2 389.4 L1669.1 387.2 L1670.0 385.2 L1670.9 385.3 L1671.8 382.5 L1672.7 381.4 L1673.6 378.2 L1674.0 378.7 L1674.5 377.6 L1675.4 376.9 L1676.3 378.9 L1677.2 378.1 L1678.1 376.5 L1679.0 378.8 L1679.9 376.5 L1680.7 377.1 L1680.8 376.6 L1681.7 373.5 L1682.6 371.6 L1683.5 371.3 L1684.1 368.7 L1684.4 367.8 L1685.3 366.4 L1686.2 366.6 L1686.6 366.2 L1687.1 367.1 L1688.0 371.8 L1688.9 371.8 L1689.1 373.7 L1689.8 373.9 L1690.7 369.0 L1691.6 368.7" fill="none" stroke="#c4c6cd" stroke-width="2.1" stroke-linejoin="round"/>
<path d="M32.6 444.3 C32.6 444.3 56.9 443.5 72.7 443.5 C97.9 443.5 91.5 491.7 114.7 491.7 C133.5 491.7 135.2 475.9 156.8 461.7 C177.3 448.3 176.9 447.3 198.8 436.5 C219.0 426.5 225.5 435.2 240.9 420.2 C267.4 394.3 255.6 370.4 282.6 354.7 C297.5 346.0 303.4 346.6 324.7 346.0 C345.6 345.4 345.9 345.8 367.0 345.4 C388.0 345.1 388.0 344.6 409.0 344.6 C428.9 344.6 429.5 344.6 448.8 346.8 C470.4 349.3 471.6 350.7 490.8 361.2 C513.5 373.6 509.5 390.9 532.7 392.7 C550.3 394.1 556.0 392.7 572.5 394.1 C596.2 396.1 589.3 428.1 613.1 434.7 C630.4 439.5 634.1 439.5 654.6 439.5 C675.8 439.5 676.8 429.1 696.6 429.1 C717.7 429.1 715.5 442.9 736.4 452.1 C755.8 460.7 757.3 464.7 777.1 464.7 C798.4 464.7 796.8 449.0 818.6 445.1 C838.6 441.5 840.9 445.1 860.6 441.5 C881.8 437.6 882.7 433.6 900.4 419.9 C922.6 402.7 916.9 379.8 940.5 379.8 C958.0 379.8 961.6 382.5 982.5 382.5 C1003.8 382.5 1006.1 375.1 1024.9 375.1 C1047.3 375.1 1042.6 402.0 1065.0 406.9 C1082.6 410.7 1085.5 406.9 1104.9 410.7 C1127.5 415.1 1127.1 426.7 1149.0 426.7 C1169.2 426.7 1170.3 420.9 1189.0 410.2 C1211.3 397.4 1209.6 394.3 1231.0 379.8 C1249.5 367.3 1248.4 356.1 1268.8 356.1 C1289.5 356.1 1291.5 364.2 1313.2 364.2 C1334.6 364.2 1333.5 349.9 1355.0 349.1 C1375.3 348.3 1376.1 348.3 1396.9 348.3 C1417.0 348.3 1417.9 348.8 1436.9 355.2 C1458.8 362.6 1456.8 370.8 1478.8 376.0 C1498.8 380.7 1500.7 376.0 1520.9 380.7 C1541.7 385.5 1540.8 398.6 1560.7 398.6 C1579.6 398.6 1584.2 395.7 1598.6 381.8 C1624.1 357.3 1613.0 321.8 1640.5 321.8 C1660.1 321.8 1692.8 321.8 1692.8 321.8" fill="none" stroke="#ef8a48" stroke-width="2"/>
<circle cx="32.6" cy="444.3" r="7" fill="#ef8a48"/>
<circle cx="72.7" cy="443.5" r="7" fill="#ef8a48"/>
<circle cx="114.7" cy="491.7" r="7" fill="#ef8a48"/>
<circle cx="156.8" cy="461.7" r="7" fill="#ef8a48"/>
<circle cx="198.8" cy="436.5" r="7" fill="#ef8a48"/>
<circle cx="240.9" cy="420.2" r="7" fill="#ef8a48"/>
<circle cx="282.6" cy="354.7" r="7" fill="#ef8a48"/>
<circle cx="324.7" cy="346.0" r="7" fill="#ef8a48"/>
<circle cx="367.0" cy="345.4" r="7" fill="#ef8a48"/>
<circle cx="409.0" cy="344.6" r="7" fill="#ef8a48"/>
<circle cx="448.8" cy="346.8" r="7" fill="#ef8a48"/>
<circle cx="490.8" cy="361.2" r="7" fill="#ef8a48"/>
<circle cx="532.7" cy="392.7" r="7" fill="#ef8a48"/>
<circle cx="572.5" cy="394.1" r="7" fill="#ef8a48"/>
<circle cx="613.1" cy="434.7" r="7" fill="#ef8a48"/>
<circle cx="654.6" cy="439.5" r="7" fill="#ef8a48"/>
<circle cx="696.6" cy="429.1" r="7" fill="#ef8a48"/>
<circle cx="736.4" cy="452.1" r="7" fill="#ef8a48"/>
<circle cx="777.1" cy="464.7" r="7" fill="#ef8a48"/>
<circle cx="818.6" cy="445.1" r="7" fill="#ef8a48"/>
<circle cx="860.6" cy="441.5" r="7" fill="#ef8a48"/>
<circle cx="900.4" cy="419.9" r="7" fill="#ef8a48"/>
<circle cx="940.5" cy="379.8" r="7" fill="#ef8a48"/>
<circle cx="982.5" cy="382.5" r="7" fill="#ef8a48"/>
<circle cx="1024.9" cy="375.1" r="7" fill="#ef8a48"/>
<circle cx="1065.0" cy="406.9" r="7" fill="#ef8a48"/>
<circle cx="1104.9" cy="410.7" r="7" fill="#ef8a48"/>
<circle cx="1149.0" cy="426.7" r="7" fill="#ef8a48"/>
<circle cx="1189.0" cy="410.2" r="7" fill="#ef8a48"/>
<circle cx="1231.0" cy="379.8" r="7" fill="#ef8a48"/>
<circle cx="1268.8" cy="356.1" r="7" fill="#ef8a48"/>
<circle cx="1313.2" cy="364.2" r="7" fill="#ef8a48"/>
<circle cx="1355.0" cy="349.1" r="7" fill="#ef8a48"/>
<circle cx="1396.9" cy="348.3" r="7" fill="#ef8a48"/>
<circle cx="1436.9" cy="355.2" r="7" fill="#ef8a48"/>
<circle cx="1478.8" cy="376.0" r="7" fill="#ef8a48"/>
<circle cx="1520.9" cy="380.7" r="7" fill="#ef8a48"/>
<circle cx="1560.7" cy="398.6" r="7" fill="#ef8a48"/>
<circle cx="1598.6" cy="381.8" r="7" fill="#ef8a48"/>
<circle cx="1640.5" cy="321.8" r="7" fill="#ef8a48"/>
<circle cx="1692.8" cy="321.8" r="7" fill="#ef8a48"/>
<rect x="32" y="598" width="1662" height="2" fill="#d2d3d8"/>
<rect x="1691.8" y="94" width="2" height="505" fill="#d2d3d8"/>
<rect x="32.0" y="598" width="2" height="20" fill="#d2d3d8"/>
<rect x="198.0" y="598" width="2" height="20" fill="#d2d3d8"/>
<rect x="366.0" y="598" width="2" height="20" fill="#d2d3d8"/>
<rect x="532.0" y="598" width="2" height="20" fill="#d2d3d8"/>
<rect x="696.0" y="598" width="2" height="20" fill="#d2d3d8"/>
<rect x="860.0" y="598" width="2" height="20" fill="#d2d3d8"/>
<rect x="1024.0" y="598" width="2" height="20" fill="#d2d3d8"/>
<rect x="1190.0" y="598" width="2" height="20" fill="#d2d3d8"/>
<rect x="1354.0" y="598" width="2" height="20" fill="#d2d3d8"/>
<rect x="1520.0" y="598" width="2" height="20" fill="#d2d3d8"/>
<rect x="1682.0" y="598" width="2" height="20" fill="#d2d3d8"/>
<text x="32" y="648" font-family="Liberation Sans" font-size="22" fill="#d6d6da">2016</text>
<text x="199.0" y="648" text-anchor="middle" font-family="Liberation Sans" font-size="22" fill="#d6d6da">2017</text>
<text x="367.0" y="648" text-anchor="middle" font-family="Liberation Sans" font-size="22" fill="#d6d6da">2018</text>
<text x="533.0" y="648" text-anchor="middle" font-family="Liberation Sans" font-size="22" fill="#d6d6da">2019</text>
<text x="697.0" y="648" text-anchor="middle" font-family="Liberation Sans" font-size="22" fill="#d6d6da">2020</text>
<text x="861.0" y="648" text-anchor="middle" font-family="Liberation Sans" font-size="22" fill="#d6d6da">2021</text>
<text x="1025.0" y="648" text-anchor="middle" font-family="Liberation Sans" font-size="22" fill="#d6d6da">2022</text>
<text x="1191.0" y="648" text-anchor="middle" font-family="Liberation Sans" font-size="22" fill="#d6d6da">2023</text>
<text x="1355.0" y="648" text-anchor="middle" font-family="Liberation Sans" font-size="22" fill="#d6d6da">2024</text>
<text x="1521.0" y="648" text-anchor="middle" font-family="Liberation Sans" font-size="22" fill="#d6d6da">2025</text>
<text x="1683.0" y="648" text-anchor="middle" font-family="Liberation Sans" font-size="22" fill="#d6d6da">2026</text>
<text x="1702" y="464.5" font-family="Liberation Sans" font-size="22" fill="#d6d6da">0</text>
<text x="1701" y="594.5" font-family="Liberation Sans" font-size="22" fill="#d6d6da">-25</text>
<rect x="1693" y="306" width="67" height="30" fill="#ef8a48"/>
<text x="1698" y="328" font-family="Liberation Sans" font-size="22" fill="#000">28,17</text>
<rect x="1693" y="356" width="53" height="30" fill="#c8c9d0"/>
<text x="1699" y="378" font-family="Liberation Sans" font-size="22" fill="#000">18.7</text>
<path d="M32.0 718.4 L32.8 719.4 L35.8 720.0 L38.9 719.8 L41.9 720.3 L44.9 721.0 L47.9 720.9 L50.9 720.4 L53.9 720.4 L56.9 720.5 L59.9 720.6 L62.9 721.2 L65.9 721.4 L68.9 721.0 L71.9 720.5 L74.9 720.3 L78.0 720.4 L81.0 720.7 L84.0 721.3 L87.0 721.8 L90.0 721.4 L93.0 720.7 L96.0 720.7 L99.0 721.2 L102.0 721.5 L105.0 721.5 L108.0 721.5 L111.0 721.7 L114.0 722.3 L117.1 723.8 L120.1 725.0 L123.1 725.0 L126.1 724.5 L129.1 724.0 L132.1 724.0 L135.1 724.5 L138.1 724.4 L141.1 723.5 L144.1 723.2 L147.1 723.6 L150.1 723.9 L153.2 723.8 L156.2 723.5 L159.2 723.5 L162.2 723.7 L165.2 723.6 L168.2 723.2 L171.2 722.8 L174.2 722.2 L177.2 722.0 L180.2 722.4 L183.2 722.6 L186.2 722.8 L189.2 722.4 L192.3 721.8 L195.3 721.4 L198.3 721.4 L201.3 721.5 L204.3 721.4 L207.3 720.3 L210.3 717.8 L213.3 714.9 L216.3 712.8 L219.3 713.0 L222.3 713.7 L225.3 713.4 L228.3 713.1 L231.4 713.8 L234.4 714.5 L237.4 714.9 L240.4 714.2 L243.4 713.9 L246.4 712.8 L249.4 711.5 L252.4 710.6 L255.4 711.5 L258.4 711.6 L261.4 709.7 L264.4 706.9 L267.4 704.0 L270.5 701.0 L273.5 701.4 L276.5 703.4 L279.5 704.8 L282.5 703.8 L285.5 702.0 L288.5 701.5 L291.5 702.5 L294.5 703.3 L297.5 704.8 L300.5 706.0 L303.5 707.3 L306.5 709.2 L309.6 710.6 L312.6 709.7 L315.6 708.0 L318.6 708.1 L321.6 708.8 L324.6 708.1 L327.6 707.0 L330.6 706.6 L333.6 707.1 L336.6 708.3 L339.6 709.6 L342.6 710.3 L345.6 710.7 L348.7 711.0 L351.7 711.6 L354.7 712.4 L357.7 713.4 L360.7 713.6 L363.7 712.6 L366.7 709.8 L369.7 708.0 L372.7 707.7 L375.7 708.9 L378.7 710.2 L381.7 710.7 L384.8 710.2 L387.8 709.2 L390.8 708.9 L393.8 709.4 L396.8 710.0 L399.8 710.6 L402.8 711.1 L405.8 711.4 L408.8 711.8 L411.8 712.1 L414.8 712.7 L417.8 714.1 L420.8 715.3 L423.9 715.4 L426.9 715.7 L429.9 715.4 L432.9 714.8 L435.9 715.4 L438.9 716.0 L441.9 716.0 L444.9 715.6 L447.9 715.8 L450.9 717.1 L453.9 718.4 L456.9 719.1 L459.9 719.8 L463.0 720.1 L466.0 720.4 L469.0 720.5 L472.0 719.8 L475.0 719.2 L478.0 719.5 L481.0 719.6 L484.0 718.4 L487.0 716.9 L490.0 717.1 L493.0 718.2 L496.0 719.1 L499.0 719.8 L502.1 720.4 L505.1 720.8 L508.1 721.9 L511.1 722.5 L514.1 722.0 L517.1 722.1 L520.1 722.5 L523.1 722.0 L526.1 721.5 L529.1 720.5 L532.1 719.9 L535.1 719.5 L538.1 720.0 L541.2 720.3 L544.2 720.3 L547.2 720.1 L550.2 720.4 L553.2 720.9 L556.2 721.4 L559.2 721.7 L562.2 721.8 L565.2 721.8 L568.2 721.9 L571.2 722.1 L574.2 722.0 L577.2 721.5 L580.3 720.8 L583.3 721.3 L586.3 723.1 L589.3 725.3 L592.3 726.4 L595.3 726.5 L598.3 726.9 L601.3 727.4 L604.3 727.3 L607.3 726.9 L610.3 726.8 L613.3 726.8 L616.4 726.9 L619.4 727.1 L622.4 727.1 L625.4 727.3 L628.4 727.6 L631.4 727.8 L634.4 727.8 L637.4 727.8 L640.4 727.9 L643.4 728.0 L646.4 728.2 L649.4 728.2 L652.4 728.2 L655.5 728.2 L658.5 728.4 L661.5 728.4 L664.5 728.0 L667.5 727.5 L670.5 726.7 L673.5 725.7 L676.5 725.4 L679.5 725.5 L682.5 725.5 L685.5 725.8 L688.5 726.3 L691.5 726.6 L694.6 726.6 L697.6 726.6 L700.6 726.7 L703.6 726.2 L706.6 725.6 L709.6 725.3 L712.6 725.4 L715.6 725.2 L718.6 725.1 L721.6 725.7 L724.6 727.1 L727.6 728.5 L730.6 729.6 L733.7 730.3 L736.7 730.2 L739.7 729.8 L742.7 729.4 L745.7 729.1 L748.7 729.3 L751.7 729.7 L754.7 729.4 L757.7 728.7 L760.7 728.0 L763.7 727.5 L766.7 727.0 L769.7 727.1 L772.8 727.5 L775.8 727.5 L778.8 727.4 L781.8 727.4 L784.8 727.5 L787.8 727.7 L790.8 727.9 L793.8 727.9 L796.8 728.1 L799.8 728.2 L802.8 728.2 L805.8 728.3 L808.9 728.2 L811.9 728.0 L814.9 727.9 L817.9 728.1 L820.9 728.4 L823.9 728.5 L826.9 728.3 L829.9 728.0 L832.9 727.9 L835.9 728.2 L838.9 728.7 L841.9 728.7 L844.9 728.6 L848.0 728.5 L851.0 728.2 L854.0 726.5 L857.0 724.1 L860.0 722.3 L863.0 722.0 L866.0 722.4 L869.0 723.0 L872.0 724.0 L875.0 724.4 L878.0 724.6 L881.0 724.6 L884.0 724.7 L887.1 724.7 L890.1 724.5 L893.1 724.2 L896.1 723.9 L899.1 723.3 L902.1 723.1 L905.1 722.9 L908.1 722.0 L911.1 720.7 L914.1 720.0 L917.1 719.5 L920.1 718.9 L923.1 718.5 L926.2 718.9 L929.2 719.8 L932.2 719.9 L935.2 719.5 L938.2 719.4 L941.2 719.4 L944.2 719.1 L947.2 719.0 L950.2 719.2 L953.2 719.5 L956.2 719.9 L959.2 720.2 L962.2 720.1 L965.3 720.3 L968.3 720.5 L971.3 720.6 L974.3 720.7 L977.3 721.2 L980.3 721.6 L983.3 721.6 L986.3 721.3 L989.3 721.1 L992.3 721.4 L995.3 721.8 L998.3 722.2 L1001.3 722.4 L1004.4 723.0 L1007.4 723.6 L1010.4 723.5 L1013.4 723.4 L1016.4 723.7 L1019.4 724.1 L1022.4 724.2 L1025.4 724.3 L1028.4 724.6 L1031.4 724.9 L1034.4 725.1 L1037.4 725.6 L1040.5 726.6 L1043.5 727.5 L1046.5 727.7 L1049.5 727.6 L1052.5 727.5 L1055.5 727.6 L1058.5 727.7 L1061.5 727.9 L1064.5 727.9 L1067.5 727.9 L1070.5 728.0 L1073.5 728.2 L1076.5 728.5 L1079.6 728.8 L1082.6 728.9 L1085.6 729.0 L1088.6 729.0 L1091.6 728.9 L1094.6 728.9 L1097.6 728.9 L1100.6 729.0 L1103.6 729.0 L1106.6 728.7 L1109.6 728.1 L1112.6 728.1 L1115.6 728.3 L1118.7 728.6 L1121.7 728.8 L1124.7 729.1 L1127.7 729.3 L1130.7 729.4 L1133.7 729.3 L1136.7 729.1 L1139.7 729.4 L1142.7 730.1 L1145.7 730.8 L1148.7 731.7 L1151.7 732.4 L1154.7 732.6 L1157.8 732.2 L1160.8 732.1 L1163.8 732.2 L1166.8 732.4 L1169.8 732.5 L1172.8 732.5 L1175.8 732.5 L1178.8 732.6 L1181.8 732.5 L1184.8 732.1 L1187.8 731.6 L1190.8 731.3 L1193.8 731.4 L1196.9 731.4 L1199.9 731.2 L1202.9 730.5 L1205.9 729.9 L1208.9 730.0 L1211.9 730.2 L1214.9 730.2 L1217.9 730.0 L1220.9 730.1 L1223.9 730.3 L1226.9 730.3 L1229.9 730.1 L1233.0 730.3 L1236.0 730.7 L1239.0 730.8 L1242.0 730.7 L1245.0 730.9 L1248.0 731.3 L1251.0 731.5 L1254.0 731.5 L1257.0 731.0 L1260.0 730.5 L1263.0 730.6 L1266.0 730.6 L1269.0 730.4 L1272.1 729.9 L1275.1 728.9 L1278.1 727.4 L1281.1 726.4 L1284.1 726.8 L1287.1 727.5 L1290.1 727.9 L1293.1 728.1 L1296.1 728.3 L1299.1 728.4 L1302.1 728.3 L1305.1 728.3 L1308.1 728.4 L1311.2 728.6 L1314.2 728.7 L1317.2 728.4 L1320.2 728.2 L1323.2 728.2 L1326.2 728.3 L1329.2 727.8 L1332.2 727.3 L1335.2 727.3 L1338.2 727.4 L1341.2 727.0 L1344.2 726.9 L1347.2 726.6 L1350.3 726.3 L1353.3 726.0 L1356.3 725.9 L1359.3 726.3 L1362.3 726.6 L1365.3 726.4 L1368.3 726.6 L1371.3 726.8 L1374.3 726.8 L1377.3 727.0 L1380.3 726.9 L1383.3 726.8 L1386.3 726.8 L1389.4 726.9 L1392.4 726.9 L1395.4 726.9 L1398.4 726.5 L1401.4 725.9 L1404.4 725.6 L1407.4 726.1 L1410.4 726.8 L1413.4 726.7 L1416.4 726.5 L1419.4 726.6 L1422.4 726.7 L1425.4 726.6 L1428.5 726.6 L1431.5 726.8 L1434.5 727.0 L1437.5 727.1 L1440.5 727.8 L1443.5 728.5 L1446.5 728.8 L1449.5 729.2 L1452.5 729.4 L1455.5 729.3 L1458.5 729.3 L1461.5 729.1 L1464.6 729.1 L1467.6 729.1 L1470.6 729.4 L1473.6 729.4 L1476.6 729.3 L1479.6 729.3 L1482.6 729.5 L1485.6 729.6 L1488.6 730.4 L1491.6 731.3 L1494.6 731.8 L1497.6 732.0 L1500.6 732.2 L1503.7 732.2 L1506.7 731.9 L1509.7 731.4 L1512.7 731.3 L1515.7 731.4 L1518.7 731.4 L1521.7 731.6 L1524.7 731.7 L1527.7 731.5 L1530.7 731.5 L1533.7 730.9 L1536.7 730.1 L1539.7 729.7 L1542.8 729.9 L1545.8 730.1 L1548.8 730.1 L1551.8 730.1 L1554.8 730.2 L1557.8 730.5 L1560.8 731.0 L1563.8 731.4 L1566.8 731.7 L1569.8 732.2 L1572.8 732.5 L1575.8 731.7 L1578.8 731.0 L1581.9 730.8 L1584.9 731.1 L1587.9 730.9 L1590.9 730.6 L1593.9 730.3 L1596.9 730.0 L1599.9 729.9 L1602.9 730.0 L1605.9 730.0 L1608.9 729.6 L1611.9 729.1 L1614.9 729.0 L1617.9 728.9 L1621.0 728.8 L1624.0 728.9 L1627.0 729.1 L1630.0 729.3 L1633.0 729.3 L1636.0 729.4 L1639.0 729.6 L1642.0 729.6 L1645.0 729.5 L1648.0 729.6 L1651.0 729.4 L1654.0 729.0 L1657.1 729.0 L1660.1 729.4 L1663.1 729.8 L1666.1 729.8 L1669.1 729.5 L1672.1 728.9 L1675.1 728.6 L1678.1 728.5 L1681.1 728.1 L1684.1 727.6 L1687.1 727.6 L1690.1 727.8 L1690.1 727.7 L1690.1 736 L32.0 736 Z" fill="url(#g2)"/>
<rect x="362.0" y="696" width="2" height="40" fill="#3d404e" fill-opacity="0.8"/>
<rect x="692.0" y="696" width="2" height="40" fill="#3d404e" fill-opacity="0.8"/>
<rect x="1022.5" y="696" width="2" height="40" fill="#3d404e" fill-opacity="0.8"/>
<rect x="1352.5" y="696" width="2" height="40" fill="#3d404e" fill-opacity="0.8"/>
<rect x="1682.0" y="696" width="2" height="40" fill="#3d404e" fill-opacity="0.8"/>
<text x="40.0" y="727.5" font-family="Liberation Sans" font-size="22" fill="#a3a4a8">2016</text>
<text x="369.0" y="727.5" font-family="Liberation Sans" font-size="22" fill="#a3a4a8">2018</text>
<text x="699.0" y="727.5" font-family="Liberation Sans" font-size="22" fill="#a3a4a8">2020</text>
<text x="1029.0" y="727.5" font-family="Liberation Sans" font-size="22" fill="#a3a4a8">2022</text>
<text x="1358.0" y="727.5" font-family="Liberation Sans" font-size="22" fill="#a3a4a8">2024</text>
<path d="M32.0 718.4 L32.8 719.4 L35.8 720.0 L38.9 719.8 L41.9 720.3 L44.9 721.0 L47.9 720.9 L50.9 720.4 L53.9 720.4 L56.9 720.5 L59.9 720.6 L62.9 721.2 L65.9 721.4 L68.9 721.0 L71.9 720.5 L74.9 720.3 L78.0 720.4 L81.0 720.7 L84.0 721.3 L87.0 721.8 L90.0 721.4 L93.0 720.7 L96.0 720.7 L99.0 721.2 L102.0 721.5 L105.0 721.5 L108.0 721.5 L111.0 721.7 L114.0 722.3 L117.1 723.8 L120.1 725.0 L123.1 725.0 L126.1 724.5 L129.1 724.0 L132.1 724.0 L135.1 724.5 L138.1 724.4 L141.1 723.5 L144.1 723.2 L147.1 723.6 L150.1 723.9 L153.2 723.8 L156.2 723.5 L159.2 723.5 L162.2 723.7 L165.2 723.6 L168.2 723.2 L171.2 722.8 L174.2 722.2 L177.2 722.0 L180.2 722.4 L183.2 722.6 L186.2 722.8 L189.2 722.4 L192.3 721.8 L195.3 721.4 L198.3 721.4 L201.3 721.5 L204.3 721.4 L207.3 720.3 L210.3 717.8 L213.3 714.9 L216.3 712.8 L219.3 713.0 L222.3 713.7 L225.3 713.4 L228.3 713.1 L231.4 713.8 L234.4 714.5 L237.4 714.9 L240.4 714.2 L243.4 713.9 L246.4 712.8 L249.4 711.5 L252.4 710.6 L255.4 711.5 L258.4 711.6 L261.4 709.7 L264.4 706.9 L267.4 704.0 L270.5 701.0 L273.5 701.4 L276.5 703.4 L279.5 704.8 L282.5 703.8 L285.5 702.0 L288.5 701.5 L291.5 702.5 L294.5 703.3 L297.5 704.8 L300.5 706.0 L303.5 707.3 L306.5 709.2 L309.6 710.6 L312.6 709.7 L315.6 708.0 L318.6 708.1 L321.6 708.8 L324.6 708.1 L327.6 707.0 L330.6 706.6 L333.6 707.1 L336.6 708.3 L339.6 709.6 L342.6 710.3 L345.6 710.7 L348.7 711.0 L351.7 711.6 L354.7 712.4 L357.7 713.4 L360.7 713.6 L363.7 712.6 L366.7 709.8 L369.7 708.0 L372.7 707.7 L375.7 708.9 L378.7 710.2 L381.7 710.7 L384.8 710.2 L387.8 709.2 L390.8 708.9 L393.8 709.4 L396.8 710.0 L399.8 710.6 L402.8 711.1 L405.8 711.4 L408.8 711.8 L411.8 712.1 L414.8 712.7 L417.8 714.1 L420.8 715.3 L423.9 715.4 L426.9 715.7 L429.9 715.4 L432.9 714.8 L435.9 715.4 L438.9 716.0 L441.9 716.0 L444.9 715.6 L447.9 715.8 L450.9 717.1 L453.9 718.4 L456.9 719.1 L459.9 719.8 L463.0 720.1 L466.0 720.4 L469.0 720.5 L472.0 719.8 L475.0 719.2 L478.0 719.5 L481.0 719.6 L484.0 718.4 L487.0 716.9 L490.0 717.1 L493.0 718.2 L496.0 719.1 L499.0 719.8 L502.1 720.4 L505.1 720.8 L508.1 721.9 L511.1 722.5 L514.1 722.0 L517.1 722.1 L520.1 722.5 L523.1 722.0 L526.1 721.5 L529.1 720.5 L532.1 719.9 L535.1 719.5 L538.1 720.0 L541.2 720.3 L544.2 720.3 L547.2 720.1 L550.2 720.4 L553.2 720.9 L556.2 721.4 L559.2 721.7 L562.2 721.8 L565.2 721.8 L568.2 721.9 L571.2 722.1 L574.2 722.0 L577.2 721.5 L580.3 720.8 L583.3 721.3 L586.3 723.1 L589.3 725.3 L592.3 726.4 L595.3 726.5 L598.3 726.9 L601.3 727.4 L604.3 727.3 L607.3 726.9 L610.3 726.8 L613.3 726.8 L616.4 726.9 L619.4 727.1 L622.4 727.1 L625.4 727.3 L628.4 727.6 L631.4 727.8 L634.4 727.8 L637.4 727.8 L640.4 727.9 L643.4 728.0 L646.4 728.2 L649.4 728.2 L652.4 728.2 L655.5 728.2 L658.5 728.4 L661.5 728.4 L664.5 728.0 L667.5 727.5 L670.5 726.7 L673.5 725.7 L676.5 725.4 L679.5 725.5 L682.5 725.5 L685.5 725.8 L688.5 726.3 L691.5 726.6 L694.6 726.6 L697.6 726.6 L700.6 726.7 L703.6 726.2 L706.6 725.6 L709.6 725.3 L712.6 725.4 L715.6 725.2 L718.6 725.1 L721.6 725.7 L724.6 727.1 L727.6 728.5 L730.6 729.6 L733.7 730.3 L736.7 730.2 L739.7 729.8 L742.7 729.4 L745.7 729.1 L748.7 729.3 L751.7 729.7 L754.7 729.4 L757.7 728.7 L760.7 728.0 L763.7 727.5 L766.7 727.0 L769.7 727.1 L772.8 727.5 L775.8 727.5 L778.8 727.4 L781.8 727.4 L784.8 727.5 L787.8 727.7 L790.8 727.9 L793.8 727.9 L796.8 728.1 L799.8 728.2 L802.8 728.2 L805.8 728.3 L808.9 728.2 L811.9 728.0 L814.9 727.9 L817.9 728.1 L820.9 728.4 L823.9 728.5 L826.9 728.3 L829.9 728.0 L832.9 727.9 L835.9 728.2 L838.9 728.7 L841.9 728.7 L844.9 728.6 L848.0 728.5 L851.0 728.2 L854.0 726.5 L857.0 724.1 L860.0 722.3 L863.0 722.0 L866.0 722.4 L869.0 723.0 L872.0 724.0 L875.0 724.4 L878.0 724.6 L881.0 724.6 L884.0 724.7 L887.1 724.7 L890.1 724.5 L893.1 724.2 L896.1 723.9 L899.1 723.3 L902.1 723.1 L905.1 722.9 L908.1 722.0 L911.1 720.7 L914.1 720.0 L917.1 719.5 L920.1 718.9 L923.1 718.5 L926.2 718.9 L929.2 719.8 L932.2 719.9 L935.2 719.5 L938.2 719.4 L941.2 719.4 L944.2 719.1 L947.2 719.0 L950.2 719.2 L953.2 719.5 L956.2 719.9 L959.2 720.2 L962.2 720.1 L965.3 720.3 L968.3 720.5 L971.3 720.6 L974.3 720.7 L977.3 721.2 L980.3 721.6 L983.3 721.6 L986.3 721.3 L989.3 721.1 L992.3 721.4 L995.3 721.8 L998.3 722.2 L1001.3 722.4 L1004.4 723.0 L1007.4 723.6 L1010.4 723.5 L1013.4 723.4 L1016.4 723.7 L1019.4 724.1 L1022.4 724.2 L1025.4 724.3 L1028.4 724.6 L1031.4 724.9 L1034.4 725.1 L1037.4 725.6 L1040.5 726.6 L1043.5 727.5 L1046.5 727.7 L1049.5 727.6 L1052.5 727.5 L1055.5 727.6 L1058.5 727.7 L1061.5 727.9 L1064.5 727.9 L1067.5 727.9 L1070.5 728.0 L1073.5 728.2 L1076.5 728.5 L1079.6 728.8 L1082.6 728.9 L1085.6 729.0 L1088.6 729.0 L1091.6 728.9 L1094.6 728.9 L1097.6 728.9 L1100.6 729.0 L1103.6 729.0 L1106.6 728.7 L1109.6 728.1 L1112.6 728.1 L1115.6 728.3 L1118.7 728.6 L1121.7 728.8 L1124.7 729.1 L1127.7 729.3 L1130.7 729.4 L1133.7 729.3 L1136.7 729.1 L1139.7 729.4 L1142.7 730.1 L1145.7 730.8 L1148.7 731.7 L1151.7 732.4 L1154.7 732.6 L1157.8 732.2 L1160.8 732.1 L1163.8 732.2 L1166.8 732.4 L1169.8 732.5 L1172.8 732.5 L1175.8 732.5 L1178.8 732.6 L1181.8 732.5 L1184.8 732.1 L1187.8 731.6 L1190.8 731.3 L1193.8 731.4 L1196.9 731.4 L1199.9 731.2 L1202.9 730.5 L1205.9 729.9 L1208.9 730.0 L1211.9 730.2 L1214.9 730.2 L1217.9 730.0 L1220.9 730.1 L1223.9 730.3 L1226.9 730.3 L1229.9 730.1 L1233.0 730.3 L1236.0 730.7 L1239.0 730.8 L1242.0 730.7 L1245.0 730.9 L1248.0 731.3 L1251.0 731.5 L1254.0 731.5 L1257.0 731.0 L1260.0 730.5 L1263.0 730.6 L1266.0 730.6 L1269.0 730.4 L1272.1 729.9 L1275.1 728.9 L1278.1 727.4 L1281.1 726.4 L1284.1 726.8 L1287.1 727.5 L1290.1 727.9 L1293.1 728.1 L1296.1 728.3 L1299.1 728.4 L1302.1 728.3 L1305.1 728.3 L1308.1 728.4 L1311.2 728.6 L1314.2 728.7 L1317.2 728.4 L1320.2 728.2 L1323.2 728.2 L1326.2 728.3 L1329.2 727.8 L1332.2 727.3 L1335.2 727.3 L1338.2 727.4 L1341.2 727.0 L1344.2 726.9 L1347.2 726.6 L1350.3 726.3 L1353.3 726.0 L1356.3 725.9 L1359.3 726.3 L1362.3 726.6 L1365.3 726.4 L1368.3 726.6 L1371.3 726.8 L1374.3 726.8 L1377.3 727.0 L1380.3 726.9 L1383.3 726.8 L1386.3 726.8 L1389.4 726.9 L1392.4 726.9 L1395.4 726.9 L1398.4 726.5 L1401.4 725.9 L1404.4 725.6 L1407.4 726.1 L1410.4 726.8 L1413.4 726.7 L1416.4 726.5 L1419.4 726.6 L1422.4 726.7 L1425.4 726.6 L1428.5 726.6 L1431.5 726.8 L1434.5 727.0 L1437.5 727.1 L1440.5 727.8 L1443.5 728.5 L1446.5 728.8 L1449.5 729.2 L1452.5 729.4 L1455.5 729.3 L1458.5 729.3 L1461.5 729.1 L1464.6 729.1 L1467.6 729.1 L1470.6 729.4 L1473.6 729.4 L1476.6 729.3 L1479.6 729.3 L1482.6 729.5 L1485.6 729.6 L1488.6 730.4 L1491.6 731.3 L1494.6 731.8 L1497.6 732.0 L1500.6 732.2 L1503.7 732.2 L1506.7 731.9 L1509.7 731.4 L1512.7 731.3 L1515.7 731.4 L1518.7 731.4 L1521.7 731.6 L1524.7 731.7 L1527.7 731.5 L1530.7 731.5 L1533.7 730.9 L1536.7 730.1 L1539.7 729.7 L1542.8 729.9 L1545.8 730.1 L1548.8 730.1 L1551.8 730.1 L1554.8 730.2 L1557.8 730.5 L1560.8 731.0 L1563.8 731.4 L1566.8 731.7 L1569.8 732.2 L1572.8 732.5 L1575.8 731.7 L1578.8 731.0 L1581.9 730.8 L1584.9 731.1 L1587.9 730.9 L1590.9 730.6 L1593.9 730.3 L1596.9 730.0 L1599.9 729.9 L1602.9 730.0 L1605.9 730.0 L1608.9 729.6 L1611.9 729.1 L1614.9 729.0 L1617.9 728.9 L1621.0 728.8 L1624.0 728.9 L1627.0 729.1 L1630.0 729.3 L1633.0 729.3 L1636.0 729.4 L1639.0 729.6 L1642.0 729.6 L1645.0 729.5 L1648.0 729.6 L1651.0 729.4 L1654.0 729.0 L1657.1 729.0 L1660.1 729.4 L1663.1 729.8 L1666.1 729.8 L1669.1 729.5 L1672.1 728.9 L1675.1 728.6 L1678.1 728.5 L1681.1 728.1 L1684.1 727.6 L1687.1 727.6 L1690.1 727.8 L1690.1 727.7" fill="none" stroke="#9a9b9e" stroke-width="1.6"/>
<rect x="31" y="695" width="1660" height="42" fill="none" stroke="#d0d1d6" stroke-width="2"/>
<rect x="23.0" y="701" width="16" height="30" fill="#222327" stroke="#d0d1d6" stroke-width="2"/>
<rect x="28.0" y="708" width="2" height="16" fill="#d0d1d6"/>
<rect x="32.0" y="708" width="2" height="16" fill="#d0d1d6"/>
<rect x="1683.0" y="701" width="16" height="30" fill="#222327" stroke="#d0d1d6" stroke-width="2"/>
<rect x="1688.0" y="708" width="2" height="16" fill="#d0d1d6"/>
<rect x="1692.0" y="708" width="2" height="16" fill="#d0d1d6"/>
<rect x="1702.9" y="726" width="2.2" height="2.2" fill="#e0e0e0"/>
<rect x="1709.9" y="726" width="2.2" height="2.2" fill="#e0e0e0"/>
<rect x="1717.2" y="726" width="2.2" height="2.2" fill="#e0e0e0"/>
<rect x="32" y="743" width="1660" height="18" rx="9" fill="#454955"/>
<rect x="853.9" y="748" width="2.2" height="8.2" fill="#d8d8dc"/>
<rect x="859.9" y="748" width="2.2" height="8.2" fill="#d8d8dc"/>
<rect x="865.9" y="748" width="2.2" height="8.2" fill="#d8d8dc"/>
</svg>
</div>
</body></html>
